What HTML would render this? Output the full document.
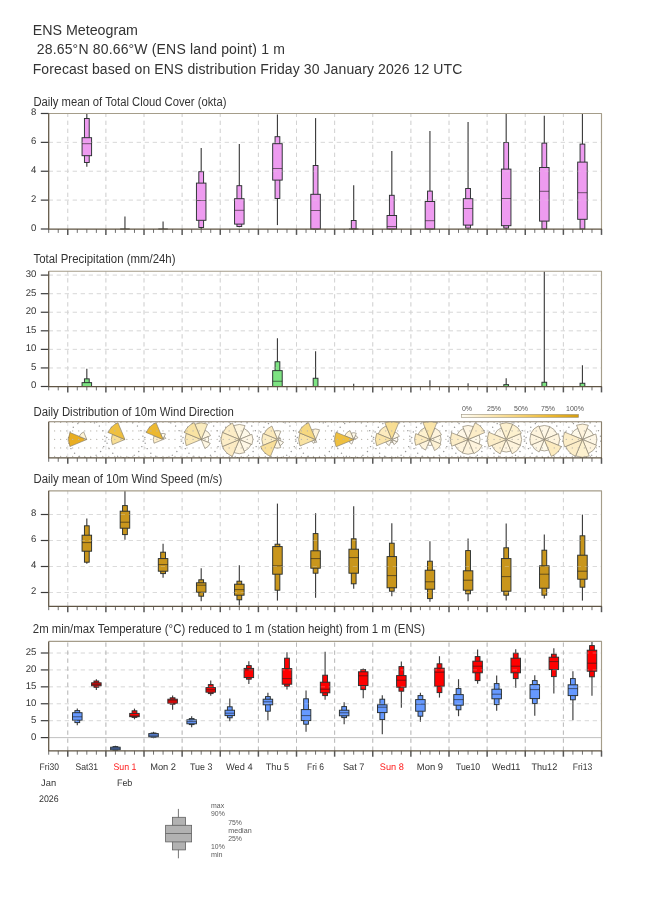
<!DOCTYPE html>
<html lang="en"><head><meta charset="utf-8"><title>ENS Meteogram</title>
<style>html,body{margin:0;padding:0;background:#fff;}svg{display:block;}text{font-family:'Liberation Sans', Arial, Helvetica, sans-serif;}.gp{text-rendering:geometricPrecision;}</style></head><body>
<svg width="650" height="916" viewBox="0 0 650 916">
<rect x="0" y="0" width="650" height="916" fill="#ffffff"/>
<text x="32.7" y="34.6" font-size="14" text-anchor="start" fill="#333333" textLength="105.3" lengthAdjust="spacingAndGlyphs">ENS Meteogram</text>
<text x="32.7" y="54" font-size="14" fill="#333333" xml:space="preserve" textLength="252.2" lengthAdjust="spacing"> 28.65°N 80.66°W (ENS land point) 1 m</text>
<text x="32.7" y="73.8" font-size="14" fill="#333333" textLength="429.6" lengthAdjust="spacing">Forecast based on ENS distribution Friday 30 January 2026 12 UTC</text>
<text x="33.5" y="105.6" font-size="12" text-anchor="start" fill="#333333" textLength="192.9" lengthAdjust="spacingAndGlyphs">Daily mean of Total Cloud Cover (okta)</text>
<g stroke-dasharray="4.3 3.7" stroke-width="1" fill="none">
<line x1="48.7" y1="200.12" x2="601.5" y2="200.12" stroke="#dbdbdb" stroke-width="1"/>
<line x1="48.7" y1="171.24" x2="601.5" y2="171.24" stroke="#dbdbdb" stroke-width="1"/>
<line x1="48.7" y1="142.36" x2="601.5" y2="142.36" stroke="#dbdbdb" stroke-width="1"/>
<line x1="67.76" y1="229" x2="67.76" y2="113.5" stroke="#d3d3d3" stroke-width="1"/>
<line x1="105.89" y1="229" x2="105.89" y2="113.5" stroke="#d3d3d3" stroke-width="1"/>
<line x1="144.01" y1="229" x2="144.01" y2="113.5" stroke="#d3d3d3" stroke-width="1"/>
<line x1="182.13" y1="229" x2="182.13" y2="113.5" stroke="#d3d3d3" stroke-width="1"/>
<line x1="220.26" y1="229" x2="220.26" y2="113.5" stroke="#d3d3d3" stroke-width="1"/>
<line x1="258.38" y1="229" x2="258.38" y2="113.5" stroke="#d3d3d3" stroke-width="1"/>
<line x1="296.51" y1="229" x2="296.51" y2="113.5" stroke="#d3d3d3" stroke-width="1"/>
<line x1="334.63" y1="229" x2="334.63" y2="113.5" stroke="#d3d3d3" stroke-width="1"/>
<line x1="372.76" y1="229" x2="372.76" y2="113.5" stroke="#d3d3d3" stroke-width="1"/>
<line x1="410.88" y1="229" x2="410.88" y2="113.5" stroke="#d3d3d3" stroke-width="1"/>
<line x1="449" y1="229" x2="449" y2="113.5" stroke="#d3d3d3" stroke-width="1"/>
<line x1="487.13" y1="229" x2="487.13" y2="113.5" stroke="#d3d3d3" stroke-width="1"/>
<line x1="525.25" y1="229" x2="525.25" y2="113.5" stroke="#d3d3d3" stroke-width="1"/>
<line x1="563.38" y1="229" x2="563.38" y2="113.5" stroke="#d3d3d3" stroke-width="1"/>
</g>
<g>
<line x1="86.82" y1="113.5" x2="86.82" y2="166.7" stroke="#3e3e3e" stroke-width="1.15"/>
<rect x="84.44" y="118.5" width="4.77" height="44" fill="#ee9bf0" stroke="#2a3030" stroke-width="0.95"/>
<rect x="82.06" y="137.7" width="9.53" height="18" fill="#ee9bf0" stroke="#2a3030" stroke-width="0.95"/>
<line x1="82.06" y1="143.7" x2="91.59" y2="143.7" stroke="#1c1c1c" stroke-width="0.6"/>
<line x1="124.95" y1="216.5" x2="124.95" y2="229" stroke="#3e3e3e" stroke-width="1.15"/>
<line x1="120.18" y1="229" x2="129.71" y2="229" stroke="#2a3030" stroke-width="1"/>
<line x1="163.07" y1="221.5" x2="163.07" y2="229" stroke="#3e3e3e" stroke-width="1.15"/>
<line x1="158.31" y1="229" x2="167.84" y2="229" stroke="#2a3030" stroke-width="1"/>
<line x1="201.2" y1="148.1" x2="201.2" y2="229" stroke="#3e3e3e" stroke-width="1.15"/>
<rect x="198.81" y="171.7" width="4.77" height="55.8" fill="#ee9bf0" stroke="#2a3030" stroke-width="0.95"/>
<rect x="196.43" y="183.1" width="9.53" height="37.2" fill="#ee9bf0" stroke="#2a3030" stroke-width="0.95"/>
<line x1="196.43" y1="200.5" x2="205.96" y2="200.5" stroke="#1c1c1c" stroke-width="0.6"/>
<line x1="239.32" y1="144.1" x2="239.32" y2="227.3" stroke="#3e3e3e" stroke-width="1.15"/>
<rect x="236.94" y="185.7" width="4.77" height="40.8" fill="#ee9bf0" stroke="#2a3030" stroke-width="0.95"/>
<rect x="234.56" y="198.7" width="9.53" height="25.4" fill="#ee9bf0" stroke="#2a3030" stroke-width="0.95"/>
<line x1="234.56" y1="210.3" x2="244.09" y2="210.3" stroke="#1c1c1c" stroke-width="0.6"/>
<line x1="277.44" y1="114.5" x2="277.44" y2="225.1" stroke="#3e3e3e" stroke-width="1.15"/>
<rect x="275.06" y="136.7" width="4.77" height="61.8" fill="#ee9bf0" stroke="#2a3030" stroke-width="0.95"/>
<rect x="272.68" y="143.7" width="9.53" height="36.4" fill="#ee9bf0" stroke="#2a3030" stroke-width="0.95"/>
<line x1="272.68" y1="168.5" x2="282.21" y2="168.5" stroke="#1c1c1c" stroke-width="0.6"/>
<line x1="315.57" y1="118.1" x2="315.57" y2="229" stroke="#3e3e3e" stroke-width="1.15"/>
<rect x="313.19" y="165.5" width="4.77" height="63.5" fill="#ee9bf0" stroke="#2a3030" stroke-width="0.95"/>
<rect x="310.8" y="194.3" width="9.53" height="34.7" fill="#ee9bf0" stroke="#2a3030" stroke-width="0.95"/>
<line x1="310.8" y1="210.5" x2="320.33" y2="210.5" stroke="#1c1c1c" stroke-width="0.6"/>
<line x1="353.69" y1="185.3" x2="353.69" y2="229" stroke="#3e3e3e" stroke-width="1.15"/>
<rect x="351.31" y="220.5" width="4.77" height="8.5" fill="#ee9bf0" stroke="#2a3030" stroke-width="0.95"/>
<line x1="348.93" y1="229" x2="358.46" y2="229" stroke="#2a3030" stroke-width="1"/>
<line x1="391.82" y1="151.1" x2="391.82" y2="229" stroke="#3e3e3e" stroke-width="1.15"/>
<rect x="389.43" y="195.3" width="4.77" height="33.7" fill="#ee9bf0" stroke="#2a3030" stroke-width="0.95"/>
<rect x="387.05" y="215.5" width="9.53" height="13.5" fill="#ee9bf0" stroke="#2a3030" stroke-width="0.95"/>
<line x1="387.05" y1="226.5" x2="396.58" y2="226.5" stroke="#1c1c1c" stroke-width="0.6"/>
<line x1="429.94" y1="131.1" x2="429.94" y2="229" stroke="#3e3e3e" stroke-width="1.15"/>
<rect x="427.56" y="191.1" width="4.77" height="37.9" fill="#ee9bf0" stroke="#2a3030" stroke-width="0.95"/>
<rect x="425.18" y="201.5" width="9.53" height="27.5" fill="#ee9bf0" stroke="#2a3030" stroke-width="0.95"/>
<line x1="425.18" y1="220.7" x2="434.71" y2="220.7" stroke="#1c1c1c" stroke-width="0.6"/>
<line x1="468.07" y1="122.1" x2="468.07" y2="229" stroke="#3e3e3e" stroke-width="1.15"/>
<rect x="465.68" y="188.5" width="4.77" height="39.6" fill="#ee9bf0" stroke="#2a3030" stroke-width="0.95"/>
<rect x="463.3" y="198.7" width="9.53" height="26.4" fill="#ee9bf0" stroke="#2a3030" stroke-width="0.95"/>
<line x1="463.3" y1="208.5" x2="472.83" y2="208.5" stroke="#1c1c1c" stroke-width="0.6"/>
<line x1="506.19" y1="113.5" x2="506.19" y2="229" stroke="#3e3e3e" stroke-width="1.15"/>
<rect x="503.81" y="142.5" width="4.77" height="85.6" fill="#ee9bf0" stroke="#2a3030" stroke-width="0.95"/>
<rect x="501.42" y="169.1" width="9.53" height="56.6" fill="#ee9bf0" stroke="#2a3030" stroke-width="0.95"/>
<line x1="501.42" y1="198.5" x2="510.96" y2="198.5" stroke="#1c1c1c" stroke-width="0.6"/>
<line x1="544.31" y1="115.7" x2="544.31" y2="229" stroke="#3e3e3e" stroke-width="1.15"/>
<rect x="541.93" y="143.1" width="4.77" height="85.9" fill="#ee9bf0" stroke="#2a3030" stroke-width="0.95"/>
<rect x="539.55" y="167.5" width="9.53" height="53.6" fill="#ee9bf0" stroke="#2a3030" stroke-width="0.95"/>
<line x1="539.55" y1="191.3" x2="549.08" y2="191.3" stroke="#1c1c1c" stroke-width="0.6"/>
<line x1="582.44" y1="113.5" x2="582.44" y2="229" stroke="#3e3e3e" stroke-width="1.15"/>
<rect x="580.06" y="144.1" width="4.77" height="84.9" fill="#ee9bf0" stroke="#2a3030" stroke-width="0.95"/>
<rect x="577.67" y="162.1" width="9.53" height="57.2" fill="#ee9bf0" stroke="#2a3030" stroke-width="0.95"/>
<line x1="577.67" y1="192.7" x2="587.2" y2="192.7" stroke="#1c1c1c" stroke-width="0.6"/>
</g>
<g opacity="0.3">
<g stroke-dasharray="4.3 3.7" stroke-width="1" fill="none">
<line x1="48.7" y1="200.12" x2="601.5" y2="200.12" stroke="#dbdbdb" stroke-width="1"/>
<line x1="48.7" y1="171.24" x2="601.5" y2="171.24" stroke="#dbdbdb" stroke-width="1"/>
<line x1="48.7" y1="142.36" x2="601.5" y2="142.36" stroke="#dbdbdb" stroke-width="1"/>
<line x1="67.76" y1="229" x2="67.76" y2="113.5" stroke="#d3d3d3" stroke-width="1"/>
<line x1="105.89" y1="229" x2="105.89" y2="113.5" stroke="#d3d3d3" stroke-width="1"/>
<line x1="144.01" y1="229" x2="144.01" y2="113.5" stroke="#d3d3d3" stroke-width="1"/>
<line x1="182.13" y1="229" x2="182.13" y2="113.5" stroke="#d3d3d3" stroke-width="1"/>
<line x1="220.26" y1="229" x2="220.26" y2="113.5" stroke="#d3d3d3" stroke-width="1"/>
<line x1="258.38" y1="229" x2="258.38" y2="113.5" stroke="#d3d3d3" stroke-width="1"/>
<line x1="296.51" y1="229" x2="296.51" y2="113.5" stroke="#d3d3d3" stroke-width="1"/>
<line x1="334.63" y1="229" x2="334.63" y2="113.5" stroke="#d3d3d3" stroke-width="1"/>
<line x1="372.76" y1="229" x2="372.76" y2="113.5" stroke="#d3d3d3" stroke-width="1"/>
<line x1="410.88" y1="229" x2="410.88" y2="113.5" stroke="#d3d3d3" stroke-width="1"/>
<line x1="449" y1="229" x2="449" y2="113.5" stroke="#d3d3d3" stroke-width="1"/>
<line x1="487.13" y1="229" x2="487.13" y2="113.5" stroke="#d3d3d3" stroke-width="1"/>
<line x1="525.25" y1="229" x2="525.25" y2="113.5" stroke="#d3d3d3" stroke-width="1"/>
<line x1="563.38" y1="229" x2="563.38" y2="113.5" stroke="#d3d3d3" stroke-width="1"/>
</g>
</g>
<polyline points="48.7,113.5 601.5,113.5 601.5,229" fill="none" stroke="#a59d8a" stroke-width="1.15" stroke-linejoin="round"/>
<line x1="48.7" y1="229" x2="48.7" y2="232.9" stroke="#707070" stroke-width="1"/>
<line x1="58.23" y1="229" x2="58.23" y2="232.9" stroke="#707070" stroke-width="1"/>
<line x1="67.76" y1="229" x2="67.76" y2="234.9" stroke="#585858" stroke-width="1.5"/>
<line x1="77.29" y1="229" x2="77.29" y2="232.9" stroke="#707070" stroke-width="1"/>
<line x1="86.82" y1="229" x2="86.82" y2="232.9" stroke="#707070" stroke-width="1"/>
<line x1="96.36" y1="229" x2="96.36" y2="232.9" stroke="#707070" stroke-width="1"/>
<line x1="105.89" y1="229" x2="105.89" y2="234.9" stroke="#585858" stroke-width="1.5"/>
<line x1="115.42" y1="229" x2="115.42" y2="232.9" stroke="#707070" stroke-width="1"/>
<line x1="124.95" y1="229" x2="124.95" y2="232.9" stroke="#707070" stroke-width="1"/>
<line x1="134.48" y1="229" x2="134.48" y2="232.9" stroke="#707070" stroke-width="1"/>
<line x1="144.01" y1="229" x2="144.01" y2="234.9" stroke="#585858" stroke-width="1.5"/>
<line x1="153.54" y1="229" x2="153.54" y2="232.9" stroke="#707070" stroke-width="1"/>
<line x1="163.07" y1="229" x2="163.07" y2="232.9" stroke="#707070" stroke-width="1"/>
<line x1="172.6" y1="229" x2="172.6" y2="232.9" stroke="#707070" stroke-width="1"/>
<line x1="182.13" y1="229" x2="182.13" y2="234.9" stroke="#585858" stroke-width="1.5"/>
<line x1="191.67" y1="229" x2="191.67" y2="232.9" stroke="#707070" stroke-width="1"/>
<line x1="201.2" y1="229" x2="201.2" y2="232.9" stroke="#707070" stroke-width="1"/>
<line x1="210.73" y1="229" x2="210.73" y2="232.9" stroke="#707070" stroke-width="1"/>
<line x1="220.26" y1="229" x2="220.26" y2="234.9" stroke="#585858" stroke-width="1.5"/>
<line x1="229.79" y1="229" x2="229.79" y2="232.9" stroke="#707070" stroke-width="1"/>
<line x1="239.32" y1="229" x2="239.32" y2="232.9" stroke="#707070" stroke-width="1"/>
<line x1="248.85" y1="229" x2="248.85" y2="232.9" stroke="#707070" stroke-width="1"/>
<line x1="258.38" y1="229" x2="258.38" y2="234.9" stroke="#585858" stroke-width="1.5"/>
<line x1="267.91" y1="229" x2="267.91" y2="232.9" stroke="#707070" stroke-width="1"/>
<line x1="277.44" y1="229" x2="277.44" y2="232.9" stroke="#707070" stroke-width="1"/>
<line x1="286.98" y1="229" x2="286.98" y2="232.9" stroke="#707070" stroke-width="1"/>
<line x1="296.51" y1="229" x2="296.51" y2="234.9" stroke="#585858" stroke-width="1.5"/>
<line x1="306.04" y1="229" x2="306.04" y2="232.9" stroke="#707070" stroke-width="1"/>
<line x1="315.57" y1="229" x2="315.57" y2="232.9" stroke="#707070" stroke-width="1"/>
<line x1="325.1" y1="229" x2="325.1" y2="232.9" stroke="#707070" stroke-width="1"/>
<line x1="334.63" y1="229" x2="334.63" y2="234.9" stroke="#585858" stroke-width="1.5"/>
<line x1="344.16" y1="229" x2="344.16" y2="232.9" stroke="#707070" stroke-width="1"/>
<line x1="353.69" y1="229" x2="353.69" y2="232.9" stroke="#707070" stroke-width="1"/>
<line x1="363.22" y1="229" x2="363.22" y2="232.9" stroke="#707070" stroke-width="1"/>
<line x1="372.76" y1="229" x2="372.76" y2="234.9" stroke="#585858" stroke-width="1.5"/>
<line x1="382.29" y1="229" x2="382.29" y2="232.9" stroke="#707070" stroke-width="1"/>
<line x1="391.82" y1="229" x2="391.82" y2="232.9" stroke="#707070" stroke-width="1"/>
<line x1="401.35" y1="229" x2="401.35" y2="232.9" stroke="#707070" stroke-width="1"/>
<line x1="410.88" y1="229" x2="410.88" y2="234.9" stroke="#585858" stroke-width="1.5"/>
<line x1="420.41" y1="229" x2="420.41" y2="232.9" stroke="#707070" stroke-width="1"/>
<line x1="429.94" y1="229" x2="429.94" y2="232.9" stroke="#707070" stroke-width="1"/>
<line x1="439.47" y1="229" x2="439.47" y2="232.9" stroke="#707070" stroke-width="1"/>
<line x1="449" y1="229" x2="449" y2="234.9" stroke="#585858" stroke-width="1.5"/>
<line x1="458.53" y1="229" x2="458.53" y2="232.9" stroke="#707070" stroke-width="1"/>
<line x1="468.07" y1="229" x2="468.07" y2="232.9" stroke="#707070" stroke-width="1"/>
<line x1="477.6" y1="229" x2="477.6" y2="232.9" stroke="#707070" stroke-width="1"/>
<line x1="487.13" y1="229" x2="487.13" y2="234.9" stroke="#585858" stroke-width="1.5"/>
<line x1="496.66" y1="229" x2="496.66" y2="232.9" stroke="#707070" stroke-width="1"/>
<line x1="506.19" y1="229" x2="506.19" y2="232.9" stroke="#707070" stroke-width="1"/>
<line x1="515.72" y1="229" x2="515.72" y2="232.9" stroke="#707070" stroke-width="1"/>
<line x1="525.25" y1="229" x2="525.25" y2="234.9" stroke="#585858" stroke-width="1.5"/>
<line x1="534.78" y1="229" x2="534.78" y2="232.9" stroke="#707070" stroke-width="1"/>
<line x1="544.31" y1="229" x2="544.31" y2="232.9" stroke="#707070" stroke-width="1"/>
<line x1="553.84" y1="229" x2="553.84" y2="232.9" stroke="#707070" stroke-width="1"/>
<line x1="563.38" y1="229" x2="563.38" y2="234.9" stroke="#585858" stroke-width="1.5"/>
<line x1="572.91" y1="229" x2="572.91" y2="232.9" stroke="#707070" stroke-width="1"/>
<line x1="582.44" y1="229" x2="582.44" y2="232.9" stroke="#707070" stroke-width="1"/>
<line x1="591.97" y1="229" x2="591.97" y2="232.9" stroke="#707070" stroke-width="1"/>
<line x1="601.5" y1="229" x2="601.5" y2="234.9" stroke="#585858" stroke-width="1.5"/>
<line x1="40.8" y1="229" x2="48.7" y2="229" stroke="#3c3c3c" stroke-width="1.2"/>
<text x="36.3" y="230.95" font-size="9.7" text-anchor="end" fill="#333333" textLength="5.3" lengthAdjust="spacingAndGlyphs" class="gp">0</text>
<line x1="40.8" y1="200.12" x2="48.7" y2="200.12" stroke="#3c3c3c" stroke-width="1.2"/>
<text x="36.3" y="202.07" font-size="9.7" text-anchor="end" fill="#333333" textLength="5.3" lengthAdjust="spacingAndGlyphs" class="gp">2</text>
<line x1="40.8" y1="171.24" x2="48.7" y2="171.24" stroke="#3c3c3c" stroke-width="1.2"/>
<text x="36.3" y="173.19" font-size="9.7" text-anchor="end" fill="#333333" textLength="5.3" lengthAdjust="spacingAndGlyphs" class="gp">4</text>
<line x1="40.8" y1="142.36" x2="48.7" y2="142.36" stroke="#3c3c3c" stroke-width="1.2"/>
<text x="36.3" y="144.31" font-size="9.7" text-anchor="end" fill="#333333" textLength="5.3" lengthAdjust="spacingAndGlyphs" class="gp">6</text>
<line x1="40.8" y1="113.48" x2="48.7" y2="113.48" stroke="#3c3c3c" stroke-width="1.2"/>
<text x="36.3" y="115.43" font-size="9.7" text-anchor="end" fill="#333333" textLength="5.3" lengthAdjust="spacingAndGlyphs" class="gp">8</text>
<polyline points="48.7,113.5 48.7,229 602,229" fill="none" stroke="#5f5443" stroke-width="1.25" stroke-linejoin="round"/>
<text x="33.5" y="262.9" font-size="12" text-anchor="start" fill="#333333" textLength="142" lengthAdjust="spacingAndGlyphs">Total Precipitation (mm/24h)</text>
<g stroke-dasharray="4.3 3.7" stroke-width="1" fill="none">
<line x1="48.7" y1="367.94" x2="601.5" y2="367.94" stroke="#dbdbdb" stroke-width="1"/>
<line x1="48.7" y1="349.37" x2="601.5" y2="349.37" stroke="#dbdbdb" stroke-width="1"/>
<line x1="48.7" y1="330.81" x2="601.5" y2="330.81" stroke="#dbdbdb" stroke-width="1"/>
<line x1="48.7" y1="312.24" x2="601.5" y2="312.24" stroke="#dbdbdb" stroke-width="1"/>
<line x1="48.7" y1="293.68" x2="601.5" y2="293.68" stroke="#dbdbdb" stroke-width="1"/>
<line x1="48.7" y1="275.11" x2="601.5" y2="275.11" stroke="#dbdbdb" stroke-width="1"/>
<line x1="67.76" y1="386.5" x2="67.76" y2="271.2" stroke="#d3d3d3" stroke-width="1"/>
<line x1="105.89" y1="386.5" x2="105.89" y2="271.2" stroke="#d3d3d3" stroke-width="1"/>
<line x1="144.01" y1="386.5" x2="144.01" y2="271.2" stroke="#d3d3d3" stroke-width="1"/>
<line x1="182.13" y1="386.5" x2="182.13" y2="271.2" stroke="#d3d3d3" stroke-width="1"/>
<line x1="220.26" y1="386.5" x2="220.26" y2="271.2" stroke="#d3d3d3" stroke-width="1"/>
<line x1="258.38" y1="386.5" x2="258.38" y2="271.2" stroke="#d3d3d3" stroke-width="1"/>
<line x1="296.51" y1="386.5" x2="296.51" y2="271.2" stroke="#d3d3d3" stroke-width="1"/>
<line x1="334.63" y1="386.5" x2="334.63" y2="271.2" stroke="#d3d3d3" stroke-width="1"/>
<line x1="372.76" y1="386.5" x2="372.76" y2="271.2" stroke="#d3d3d3" stroke-width="1"/>
<line x1="410.88" y1="386.5" x2="410.88" y2="271.2" stroke="#d3d3d3" stroke-width="1"/>
<line x1="449" y1="386.5" x2="449" y2="271.2" stroke="#d3d3d3" stroke-width="1"/>
<line x1="487.13" y1="386.5" x2="487.13" y2="271.2" stroke="#d3d3d3" stroke-width="1"/>
<line x1="525.25" y1="386.5" x2="525.25" y2="271.2" stroke="#d3d3d3" stroke-width="1"/>
<line x1="563.38" y1="386.5" x2="563.38" y2="271.2" stroke="#d3d3d3" stroke-width="1"/>
</g>
<g>
<line x1="86.82" y1="368.65" x2="86.82" y2="386.5" stroke="#3e3e3e" stroke-width="1.15"/>
<rect x="84.44" y="378.85" width="4.77" height="7.65" fill="#7de382" stroke="#2a3030" stroke-width="0.95"/>
<rect x="82.06" y="382.65" width="9.53" height="3.85" fill="#7de382" stroke="#2a3030" stroke-width="0.95"/>
<line x1="277.44" y1="338.25" x2="277.44" y2="386.5" stroke="#3e3e3e" stroke-width="1.15"/>
<rect x="275.06" y="361.75" width="4.77" height="24.75" fill="#7de382" stroke="#2a3030" stroke-width="0.95"/>
<rect x="272.68" y="370.65" width="9.53" height="15.85" fill="#7de382" stroke="#2a3030" stroke-width="0.95"/>
<line x1="272.68" y1="381.25" x2="282.21" y2="381.25" stroke="#1c1c1c" stroke-width="0.6"/>
<line x1="315.57" y1="351.25" x2="315.57" y2="386.5" stroke="#3e3e3e" stroke-width="1.15"/>
<rect x="313.19" y="378.25" width="4.77" height="8.25" fill="#7de382" stroke="#2a3030" stroke-width="0.95"/>
<line x1="310.8" y1="386.5" x2="320.33" y2="386.5" stroke="#2a3030" stroke-width="1"/>
<line x1="353.69" y1="383.85" x2="353.69" y2="386.5" stroke="#3e3e3e" stroke-width="1.15"/>
<line x1="348.93" y1="386.5" x2="358.46" y2="386.5" stroke="#2a3030" stroke-width="1"/>
<line x1="429.94" y1="380.25" x2="429.94" y2="386.5" stroke="#3e3e3e" stroke-width="1.15"/>
<line x1="425.18" y1="386.5" x2="434.71" y2="386.5" stroke="#2a3030" stroke-width="1"/>
<line x1="468.07" y1="383.25" x2="468.07" y2="386.5" stroke="#3e3e3e" stroke-width="1.15"/>
<line x1="463.3" y1="386.5" x2="472.83" y2="386.5" stroke="#2a3030" stroke-width="1"/>
<line x1="506.19" y1="378.25" x2="506.19" y2="386.5" stroke="#3e3e3e" stroke-width="1.15"/>
<rect x="503.81" y="384.65" width="4.77" height="1.85" fill="#7de382" stroke="#2a3030" stroke-width="0.95"/>
<line x1="501.42" y1="386.5" x2="510.96" y2="386.5" stroke="#2a3030" stroke-width="1"/>
<line x1="544.31" y1="271.45" x2="544.31" y2="386.5" stroke="#3e3e3e" stroke-width="1.15"/>
<rect x="541.93" y="382.25" width="4.77" height="4.25" fill="#7de382" stroke="#2a3030" stroke-width="0.95"/>
<line x1="539.55" y1="386.5" x2="549.08" y2="386.5" stroke="#2a3030" stroke-width="1"/>
<line x1="582.44" y1="365.25" x2="582.44" y2="386.5" stroke="#3e3e3e" stroke-width="1.15"/>
<rect x="580.06" y="383.25" width="4.77" height="3.25" fill="#7de382" stroke="#2a3030" stroke-width="0.95"/>
<line x1="577.67" y1="386.5" x2="587.2" y2="386.5" stroke="#2a3030" stroke-width="1"/>
</g>
<g opacity="0.3">
<g stroke-dasharray="4.3 3.7" stroke-width="1" fill="none">
<line x1="48.7" y1="367.94" x2="601.5" y2="367.94" stroke="#dbdbdb" stroke-width="1"/>
<line x1="48.7" y1="349.37" x2="601.5" y2="349.37" stroke="#dbdbdb" stroke-width="1"/>
<line x1="48.7" y1="330.81" x2="601.5" y2="330.81" stroke="#dbdbdb" stroke-width="1"/>
<line x1="48.7" y1="312.24" x2="601.5" y2="312.24" stroke="#dbdbdb" stroke-width="1"/>
<line x1="48.7" y1="293.68" x2="601.5" y2="293.68" stroke="#dbdbdb" stroke-width="1"/>
<line x1="48.7" y1="275.11" x2="601.5" y2="275.11" stroke="#dbdbdb" stroke-width="1"/>
<line x1="67.76" y1="386.5" x2="67.76" y2="271.2" stroke="#d3d3d3" stroke-width="1"/>
<line x1="105.89" y1="386.5" x2="105.89" y2="271.2" stroke="#d3d3d3" stroke-width="1"/>
<line x1="144.01" y1="386.5" x2="144.01" y2="271.2" stroke="#d3d3d3" stroke-width="1"/>
<line x1="182.13" y1="386.5" x2="182.13" y2="271.2" stroke="#d3d3d3" stroke-width="1"/>
<line x1="220.26" y1="386.5" x2="220.26" y2="271.2" stroke="#d3d3d3" stroke-width="1"/>
<line x1="258.38" y1="386.5" x2="258.38" y2="271.2" stroke="#d3d3d3" stroke-width="1"/>
<line x1="296.51" y1="386.5" x2="296.51" y2="271.2" stroke="#d3d3d3" stroke-width="1"/>
<line x1="334.63" y1="386.5" x2="334.63" y2="271.2" stroke="#d3d3d3" stroke-width="1"/>
<line x1="372.76" y1="386.5" x2="372.76" y2="271.2" stroke="#d3d3d3" stroke-width="1"/>
<line x1="410.88" y1="386.5" x2="410.88" y2="271.2" stroke="#d3d3d3" stroke-width="1"/>
<line x1="449" y1="386.5" x2="449" y2="271.2" stroke="#d3d3d3" stroke-width="1"/>
<line x1="487.13" y1="386.5" x2="487.13" y2="271.2" stroke="#d3d3d3" stroke-width="1"/>
<line x1="525.25" y1="386.5" x2="525.25" y2="271.2" stroke="#d3d3d3" stroke-width="1"/>
<line x1="563.38" y1="386.5" x2="563.38" y2="271.2" stroke="#d3d3d3" stroke-width="1"/>
</g>
</g>
<polyline points="48.7,271.2 601.5,271.2 601.5,386.5" fill="none" stroke="#a59d8a" stroke-width="1.15" stroke-linejoin="round"/>
<line x1="48.7" y1="386.5" x2="48.7" y2="390.4" stroke="#707070" stroke-width="1"/>
<line x1="58.23" y1="386.5" x2="58.23" y2="390.4" stroke="#707070" stroke-width="1"/>
<line x1="67.76" y1="386.5" x2="67.76" y2="392.4" stroke="#585858" stroke-width="1.5"/>
<line x1="77.29" y1="386.5" x2="77.29" y2="390.4" stroke="#707070" stroke-width="1"/>
<line x1="86.82" y1="386.5" x2="86.82" y2="390.4" stroke="#707070" stroke-width="1"/>
<line x1="96.36" y1="386.5" x2="96.36" y2="390.4" stroke="#707070" stroke-width="1"/>
<line x1="105.89" y1="386.5" x2="105.89" y2="392.4" stroke="#585858" stroke-width="1.5"/>
<line x1="115.42" y1="386.5" x2="115.42" y2="390.4" stroke="#707070" stroke-width="1"/>
<line x1="124.95" y1="386.5" x2="124.95" y2="390.4" stroke="#707070" stroke-width="1"/>
<line x1="134.48" y1="386.5" x2="134.48" y2="390.4" stroke="#707070" stroke-width="1"/>
<line x1="144.01" y1="386.5" x2="144.01" y2="392.4" stroke="#585858" stroke-width="1.5"/>
<line x1="153.54" y1="386.5" x2="153.54" y2="390.4" stroke="#707070" stroke-width="1"/>
<line x1="163.07" y1="386.5" x2="163.07" y2="390.4" stroke="#707070" stroke-width="1"/>
<line x1="172.6" y1="386.5" x2="172.6" y2="390.4" stroke="#707070" stroke-width="1"/>
<line x1="182.13" y1="386.5" x2="182.13" y2="392.4" stroke="#585858" stroke-width="1.5"/>
<line x1="191.67" y1="386.5" x2="191.67" y2="390.4" stroke="#707070" stroke-width="1"/>
<line x1="201.2" y1="386.5" x2="201.2" y2="390.4" stroke="#707070" stroke-width="1"/>
<line x1="210.73" y1="386.5" x2="210.73" y2="390.4" stroke="#707070" stroke-width="1"/>
<line x1="220.26" y1="386.5" x2="220.26" y2="392.4" stroke="#585858" stroke-width="1.5"/>
<line x1="229.79" y1="386.5" x2="229.79" y2="390.4" stroke="#707070" stroke-width="1"/>
<line x1="239.32" y1="386.5" x2="239.32" y2="390.4" stroke="#707070" stroke-width="1"/>
<line x1="248.85" y1="386.5" x2="248.85" y2="390.4" stroke="#707070" stroke-width="1"/>
<line x1="258.38" y1="386.5" x2="258.38" y2="392.4" stroke="#585858" stroke-width="1.5"/>
<line x1="267.91" y1="386.5" x2="267.91" y2="390.4" stroke="#707070" stroke-width="1"/>
<line x1="277.44" y1="386.5" x2="277.44" y2="390.4" stroke="#707070" stroke-width="1"/>
<line x1="286.98" y1="386.5" x2="286.98" y2="390.4" stroke="#707070" stroke-width="1"/>
<line x1="296.51" y1="386.5" x2="296.51" y2="392.4" stroke="#585858" stroke-width="1.5"/>
<line x1="306.04" y1="386.5" x2="306.04" y2="390.4" stroke="#707070" stroke-width="1"/>
<line x1="315.57" y1="386.5" x2="315.57" y2="390.4" stroke="#707070" stroke-width="1"/>
<line x1="325.1" y1="386.5" x2="325.1" y2="390.4" stroke="#707070" stroke-width="1"/>
<line x1="334.63" y1="386.5" x2="334.63" y2="392.4" stroke="#585858" stroke-width="1.5"/>
<line x1="344.16" y1="386.5" x2="344.16" y2="390.4" stroke="#707070" stroke-width="1"/>
<line x1="353.69" y1="386.5" x2="353.69" y2="390.4" stroke="#707070" stroke-width="1"/>
<line x1="363.22" y1="386.5" x2="363.22" y2="390.4" stroke="#707070" stroke-width="1"/>
<line x1="372.76" y1="386.5" x2="372.76" y2="392.4" stroke="#585858" stroke-width="1.5"/>
<line x1="382.29" y1="386.5" x2="382.29" y2="390.4" stroke="#707070" stroke-width="1"/>
<line x1="391.82" y1="386.5" x2="391.82" y2="390.4" stroke="#707070" stroke-width="1"/>
<line x1="401.35" y1="386.5" x2="401.35" y2="390.4" stroke="#707070" stroke-width="1"/>
<line x1="410.88" y1="386.5" x2="410.88" y2="392.4" stroke="#585858" stroke-width="1.5"/>
<line x1="420.41" y1="386.5" x2="420.41" y2="390.4" stroke="#707070" stroke-width="1"/>
<line x1="429.94" y1="386.5" x2="429.94" y2="390.4" stroke="#707070" stroke-width="1"/>
<line x1="439.47" y1="386.5" x2="439.47" y2="390.4" stroke="#707070" stroke-width="1"/>
<line x1="449" y1="386.5" x2="449" y2="392.4" stroke="#585858" stroke-width="1.5"/>
<line x1="458.53" y1="386.5" x2="458.53" y2="390.4" stroke="#707070" stroke-width="1"/>
<line x1="468.07" y1="386.5" x2="468.07" y2="390.4" stroke="#707070" stroke-width="1"/>
<line x1="477.6" y1="386.5" x2="477.6" y2="390.4" stroke="#707070" stroke-width="1"/>
<line x1="487.13" y1="386.5" x2="487.13" y2="392.4" stroke="#585858" stroke-width="1.5"/>
<line x1="496.66" y1="386.5" x2="496.66" y2="390.4" stroke="#707070" stroke-width="1"/>
<line x1="506.19" y1="386.5" x2="506.19" y2="390.4" stroke="#707070" stroke-width="1"/>
<line x1="515.72" y1="386.5" x2="515.72" y2="390.4" stroke="#707070" stroke-width="1"/>
<line x1="525.25" y1="386.5" x2="525.25" y2="392.4" stroke="#585858" stroke-width="1.5"/>
<line x1="534.78" y1="386.5" x2="534.78" y2="390.4" stroke="#707070" stroke-width="1"/>
<line x1="544.31" y1="386.5" x2="544.31" y2="390.4" stroke="#707070" stroke-width="1"/>
<line x1="553.84" y1="386.5" x2="553.84" y2="390.4" stroke="#707070" stroke-width="1"/>
<line x1="563.38" y1="386.5" x2="563.38" y2="392.4" stroke="#585858" stroke-width="1.5"/>
<line x1="572.91" y1="386.5" x2="572.91" y2="390.4" stroke="#707070" stroke-width="1"/>
<line x1="582.44" y1="386.5" x2="582.44" y2="390.4" stroke="#707070" stroke-width="1"/>
<line x1="591.97" y1="386.5" x2="591.97" y2="390.4" stroke="#707070" stroke-width="1"/>
<line x1="601.5" y1="386.5" x2="601.5" y2="392.4" stroke="#585858" stroke-width="1.5"/>
<line x1="40.8" y1="386.5" x2="48.7" y2="386.5" stroke="#3c3c3c" stroke-width="1.2"/>
<text x="36.3" y="388.45" font-size="9.7" text-anchor="end" fill="#333333" textLength="5.3" lengthAdjust="spacingAndGlyphs" class="gp">0</text>
<line x1="40.8" y1="367.94" x2="48.7" y2="367.94" stroke="#3c3c3c" stroke-width="1.2"/>
<text x="36.3" y="369.88" font-size="9.7" text-anchor="end" fill="#333333" textLength="5.3" lengthAdjust="spacingAndGlyphs" class="gp">5</text>
<line x1="40.8" y1="349.37" x2="48.7" y2="349.37" stroke="#3c3c3c" stroke-width="1.2"/>
<text x="36.3" y="351.32" font-size="9.7" text-anchor="end" fill="#333333" textLength="10.6" lengthAdjust="spacingAndGlyphs" class="gp">10</text>
<line x1="40.8" y1="330.81" x2="48.7" y2="330.81" stroke="#3c3c3c" stroke-width="1.2"/>
<text x="36.3" y="332.75" font-size="9.7" text-anchor="end" fill="#333333" textLength="10.6" lengthAdjust="spacingAndGlyphs" class="gp">15</text>
<line x1="40.8" y1="312.24" x2="48.7" y2="312.24" stroke="#3c3c3c" stroke-width="1.2"/>
<text x="36.3" y="314.19" font-size="9.7" text-anchor="end" fill="#333333" textLength="10.6" lengthAdjust="spacingAndGlyphs" class="gp">20</text>
<line x1="40.8" y1="293.68" x2="48.7" y2="293.68" stroke="#3c3c3c" stroke-width="1.2"/>
<text x="36.3" y="295.62" font-size="9.7" text-anchor="end" fill="#333333" textLength="10.6" lengthAdjust="spacingAndGlyphs" class="gp">25</text>
<line x1="40.8" y1="275.11" x2="48.7" y2="275.11" stroke="#3c3c3c" stroke-width="1.2"/>
<text x="36.3" y="277.06" font-size="9.7" text-anchor="end" fill="#333333" textLength="10.6" lengthAdjust="spacingAndGlyphs" class="gp">30</text>
<polyline points="48.7,271.2 48.7,386.5 602,386.5" fill="none" stroke="#5f5443" stroke-width="1.25" stroke-linejoin="round"/>
<text x="33.5" y="415.6" font-size="12" text-anchor="start" fill="#333333" textLength="200.2" lengthAdjust="spacingAndGlyphs">Daily Distribution of 10m Wind Direction</text>
<defs><linearGradient id="wg" x1="0" y1="0" x2="1" y2="0"><stop offset="0" stop-color="#fffdf4"/><stop offset="0.25" stop-color="#fbe7b4"/><stop offset="0.5" stop-color="#f6d273"/><stop offset="0.75" stop-color="#ecb933"/><stop offset="1" stop-color="#d39c10"/></linearGradient><clipPath id="c3"><rect x="48.7" y="421.7" width="552.8" height="36.2"/></clipPath></defs>
<rect x="461.3" y="414.4" width="117.3" height="3" fill="url(#wg)" stroke="#9a927e" stroke-width="0.6"/>
<text x="467" y="411" font-size="7" text-anchor="middle" fill="#555555">0%</text>
<text x="494" y="411" font-size="7" text-anchor="middle" fill="#555555">25%</text>
<text x="521" y="411" font-size="7" text-anchor="middle" fill="#555555">50%</text>
<text x="548" y="411" font-size="7" text-anchor="middle" fill="#555555">75%</text>
<text x="575" y="411" font-size="7" text-anchor="middle" fill="#555555">100%</text>
<g clip-path="url(#c3)">
<g stroke-dasharray="4.3 3.7" stroke-width="1" fill="none">
<line x1="67.76" y1="457.9" x2="67.76" y2="421.7" stroke="#e2e2e2" stroke-width="1"/>
<line x1="105.89" y1="457.9" x2="105.89" y2="421.7" stroke="#e2e2e2" stroke-width="1"/>
<line x1="144.01" y1="457.9" x2="144.01" y2="421.7" stroke="#e2e2e2" stroke-width="1"/>
<line x1="182.13" y1="457.9" x2="182.13" y2="421.7" stroke="#e2e2e2" stroke-width="1"/>
<line x1="220.26" y1="457.9" x2="220.26" y2="421.7" stroke="#e2e2e2" stroke-width="1"/>
<line x1="258.38" y1="457.9" x2="258.38" y2="421.7" stroke="#e2e2e2" stroke-width="1"/>
<line x1="296.51" y1="457.9" x2="296.51" y2="421.7" stroke="#e2e2e2" stroke-width="1"/>
<line x1="334.63" y1="457.9" x2="334.63" y2="421.7" stroke="#e2e2e2" stroke-width="1"/>
<line x1="372.76" y1="457.9" x2="372.76" y2="421.7" stroke="#e2e2e2" stroke-width="1"/>
<line x1="410.88" y1="457.9" x2="410.88" y2="421.7" stroke="#e2e2e2" stroke-width="1"/>
<line x1="449" y1="457.9" x2="449" y2="421.7" stroke="#e2e2e2" stroke-width="1"/>
<line x1="487.13" y1="457.9" x2="487.13" y2="421.7" stroke="#e2e2e2" stroke-width="1"/>
<line x1="525.25" y1="457.9" x2="525.25" y2="421.7" stroke="#e2e2e2" stroke-width="1"/>
<line x1="563.38" y1="457.9" x2="563.38" y2="421.7" stroke="#e2e2e2" stroke-width="1"/>
</g>
<g fill="none" stroke="#9a9a9a" stroke-width="1.4" stroke-linecap="round">
<circle cx="86.82" cy="439.5" r="18.3" stroke-dasharray="0.01 5.74" transform="rotate(5 86.82 439.5)"/>
<circle cx="124.95" cy="439.5" r="18.3" stroke-dasharray="0.01 5.74" transform="rotate(5 124.95 439.5)"/>
<circle cx="163.07" cy="439.5" r="18.3" stroke-dasharray="0.01 5.74" transform="rotate(5 163.07 439.5)"/>
<circle cx="201.2" cy="439.5" r="18.3" stroke-dasharray="0.01 5.74" transform="rotate(5 201.2 439.5)"/>
<circle cx="239.32" cy="439.5" r="18.3" stroke-dasharray="0.01 5.74" transform="rotate(5 239.32 439.5)"/>
<circle cx="277.44" cy="439.5" r="18.3" stroke-dasharray="0.01 5.74" transform="rotate(5 277.44 439.5)"/>
<circle cx="315.57" cy="439.5" r="18.3" stroke-dasharray="0.01 5.74" transform="rotate(5 315.57 439.5)"/>
<circle cx="353.69" cy="439.5" r="18.3" stroke-dasharray="0.01 5.74" transform="rotate(5 353.69 439.5)"/>
<circle cx="391.82" cy="439.5" r="18.3" stroke-dasharray="0.01 5.74" transform="rotate(5 391.82 439.5)"/>
<circle cx="429.94" cy="439.5" r="18.3" stroke-dasharray="0.01 5.74" transform="rotate(5 429.94 439.5)"/>
<circle cx="468.07" cy="439.5" r="18.3" stroke-dasharray="0.01 5.74" transform="rotate(5 468.07 439.5)"/>
<circle cx="506.19" cy="439.5" r="18.3" stroke-dasharray="0.01 5.74" transform="rotate(5 506.19 439.5)"/>
<circle cx="544.31" cy="439.5" r="18.3" stroke-dasharray="0.01 5.74" transform="rotate(5 544.31 439.5)"/>
<circle cx="582.44" cy="439.5" r="18.3" stroke-dasharray="0.01 5.74" transform="rotate(5 582.44 439.5)"/>
</g>
<g stroke="#857d6c" stroke-width="0.65" stroke-linejoin="round">
<path d="M86.82,439.5L69.92,446.5A18.3,18.3 0 0 1 69.92,432.5Z" fill="#e9ae22"/>
<path d="M86.82,439.5L79.25,436.36A8.2,8.2 0 0 1 83.69,431.92Z" fill="#fef4d7"/>
<path d="M124.95,439.5L112.38,444.7A13.6,13.6 0 0 1 112.38,434.3Z" fill="#f8de94"/>
<path d="M124.95,439.5L108.13,432.54A18.2,18.2 0 0 1 117.98,422.69Z" fill="#efc040"/>
<path d="M163.07,439.5L154.02,443.25A9.8,9.8 0 0 1 154.02,435.75Z" fill="#fdedc7"/>
<path d="M163.07,439.5L160.74,433.86A6.1,6.1 0 0 1 165.41,433.86Z" fill="#fffaea"/>
<path d="M163.07,439.5L164.22,436.73A3,3 0 0 1 165.84,438.35Z" fill="#fffdf6"/>
<path d="M163.07,439.5L146.26,432.54A18.2,18.2 0 0 1 156.11,422.69Z" fill="#ecb830"/>
<path d="M201.2,439.5L205.06,430.17A10.1,10.1 0 0 1 210.53,435.63Z" fill="#fef7e3"/>
<path d="M201.2,439.5L208.13,436.63A7.5,7.5 0 0 1 208.13,442.37Z" fill="#fffaec"/>
<path d="M201.2,439.5L210.25,443.25A9.8,9.8 0 0 1 204.95,448.55Z" fill="#fef7e3"/>
<path d="M201.2,439.5L186.23,445.7A16.2,16.2 0 0 1 186.23,433.3Z" fill="#fae8b6"/>
<path d="M201.2,439.5L194.84,424.16A16.6,16.6 0 0 1 207.55,424.16Z" fill="#faecbf"/>
<path d="M201.2,439.5L184.38,432.54A18.2,18.2 0 0 1 194.23,422.69Z" fill="#f9e3a3"/>
<path d="M239.32,439.5L243.91,428.41A12,12 0 0 1 250.41,434.91Z" fill="#fef9e9"/>
<path d="M239.32,439.5L251.89,434.3A13.6,13.6 0 0 1 251.89,444.7Z" fill="#fef7e6"/>
<path d="M239.32,439.5L251.15,444.4A12.8,12.8 0 0 1 244.22,451.33Z" fill="#fef7e6"/>
<path d="M239.32,439.5L244.75,452.62A14.2,14.2 0 0 1 233.89,452.62Z" fill="#fef4dd"/>
<path d="M239.32,439.5L233.58,425.64A15,15 0 0 1 245.06,425.64Z" fill="#fef6e0"/>
<path d="M239.32,439.5L222.88,432.69A17.8,17.8 0 0 1 232.51,423.05Z" fill="#fcedc7"/>
<path d="M239.32,439.5L232.32,456.41A18.3,18.3 0 0 1 222.41,446.5Z" fill="#fcebc3"/>
<path d="M239.32,439.5L222.41,446.5A18.3,18.3 0 0 1 222.41,432.5Z" fill="#fcedc7"/>
<path d="M277.44,439.5L278.59,436.73A3,3 0 0 1 280.22,438.35Z" fill="#fffdf6"/>
<path d="M277.44,439.5L280.4,438.28A3.2,3.2 0 0 1 280.4,440.72Z" fill="#fffdf6"/>
<path d="M277.44,439.5L283.54,442.03A6.6,6.6 0 0 1 279.97,445.6Z" fill="#fefaee"/>
<path d="M277.44,439.5L280.77,447.54A8.7,8.7 0 0 1 274.12,447.54Z" fill="#fef7e6"/>
<path d="M277.44,439.5L274,431.19A9,9 0 0 1 280.89,431.19Z" fill="#fef9e9"/>
<path d="M277.44,439.5L263.96,433.91A14.6,14.6 0 0 1 271.86,426.01Z" fill="#fbe9ba"/>
<path d="M277.44,439.5L263.03,445.47A15.6,15.6 0 0 1 263.03,433.53Z" fill="#fcedc3"/>
<path d="M277.44,439.5L270.44,456.41A18.3,18.3 0 0 1 260.54,446.5Z" fill="#f9df99"/>
<path d="M315.57,439.5L316.72,442.27A3,3 0 0 1 314.42,442.27Z" fill="#fffdf6"/>
<path d="M315.57,439.5L313.96,443.38A4.2,4.2 0 0 1 311.69,441.11Z" fill="#fffcf3"/>
<path d="M315.57,439.5L311.55,429.8A10.5,10.5 0 0 1 319.59,429.8Z" fill="#fef4da"/>
<path d="M315.57,439.5L299.96,445.97A16.9,16.9 0 0 1 299.96,433.03Z" fill="#f9e3a3"/>
<path d="M315.57,439.5L298.75,432.54A18.2,18.2 0 0 1 308.6,422.69Z" fill="#f6d880"/>
<path d="M353.69,439.5L355.42,435.34A4.5,4.5 0 0 1 357.85,437.78Z" fill="#fffbf4"/>
<path d="M353.69,439.5L351.78,444.12A5,5 0 0 1 349.07,441.41Z" fill="#fffbf4"/>
<path d="M353.69,439.5L351.09,433.22A6.8,6.8 0 0 1 356.3,433.22Z" fill="#fef9e9"/>
<path d="M353.69,439.5L344.73,435.79A9.7,9.7 0 0 1 349.98,430.54Z" fill="#fef4d7"/>
<path d="M353.69,439.5L336.14,446.77A19,19 0 0 1 336.14,432.23Z" fill="#efc040"/>
<path d="M391.82,439.5L392.97,442.27A3,3 0 0 1 390.67,442.27Z" fill="#fffdf6"/>
<path d="M391.82,439.5L396.9,441.6A5.5,5.5 0 0 1 393.92,444.58Z" fill="#fffbf4"/>
<path d="M391.82,439.5L397.36,437.2A6,6 0 0 1 397.36,441.8Z" fill="#fffbf4"/>
<path d="M391.82,439.5L389.29,445.6A6.6,6.6 0 0 1 385.72,442.03Z" fill="#fefaee"/>
<path d="M391.82,439.5L394.96,431.92A8.2,8.2 0 0 1 399.39,436.36Z" fill="#fef9e9"/>
<path d="M391.82,439.5L378.14,433.84A14.8,14.8 0 0 1 386.15,425.83Z" fill="#fcebbf"/>
<path d="M391.82,439.5L376.67,445.78A16.4,16.4 0 0 1 376.67,433.22Z" fill="#fae4a8"/>
<path d="M391.82,439.5L384.81,422.59A18.3,18.3 0 0 1 398.82,422.59Z" fill="#f8de94"/>
<path d="M429.94,439.5L432.24,445.04A6,6 0 0 1 427.65,445.04Z" fill="#fffbf4"/>
<path d="M429.94,439.5L440.29,435.21A11.2,11.2 0 0 1 440.29,443.79Z" fill="#fef6e0"/>
<path d="M429.94,439.5L425.54,450.12A11.5,11.5 0 0 1 419.32,443.9Z" fill="#fef4dd"/>
<path d="M429.94,439.5L441.03,444.09A12,12 0 0 1 434.53,450.59Z" fill="#fdf1d3"/>
<path d="M429.94,439.5L434.72,427.95A12.5,12.5 0 0 1 441.49,434.72Z" fill="#fef4dd"/>
<path d="M429.94,439.5L417.93,434.53A13,13 0 0 1 424.97,427.49Z" fill="#fdf1cf"/>
<path d="M429.94,439.5L415.71,445.39A15.4,15.4 0 0 1 415.71,433.61Z" fill="#fcebbf"/>
<path d="M429.94,439.5L422.94,422.59A18.3,18.3 0 0 1 436.94,422.59Z" fill="#fae4a8"/>
<path d="M468.07,439.5L479.15,434.91A12,12 0 0 1 479.15,444.09Z" fill="#fef9e9"/>
<path d="M468.07,439.5L456.98,434.91A12,12 0 0 1 463.47,428.41Z" fill="#fef7e6"/>
<path d="M468.07,439.5L462.71,426.57A14,14 0 0 1 473.42,426.57Z" fill="#fef6e3"/>
<path d="M468.07,439.5L462.55,452.8A14.4,14.4 0 0 1 454.76,445.01Z" fill="#fef4dd"/>
<path d="M468.07,439.5L473.69,453.08A14.7,14.7 0 0 1 462.44,453.08Z" fill="#fef4dd"/>
<path d="M468.07,439.5L482.2,445.36A15.3,15.3 0 0 1 473.92,453.64Z" fill="#fef4dd"/>
<path d="M468.07,439.5L451.71,446.27A17.7,17.7 0 0 1 451.71,432.73Z" fill="#fcedc7"/>
<path d="M468.07,439.5L474.95,422.87A18,18 0 0 1 484.7,432.61Z" fill="#fcedc7"/>
<path d="M506.19,439.5L510.97,451.05A12.5,12.5 0 0 1 501.41,451.05Z" fill="#fef6e3"/>
<path d="M506.19,439.5L494.46,434.64A12.7,12.7 0 0 1 501.33,427.77Z" fill="#fef7e6"/>
<path d="M506.19,439.5L520.42,433.61A15.4,15.4 0 0 1 520.42,445.39Z" fill="#fef4dd"/>
<path d="M506.19,439.5L520.51,445.43A15.5,15.5 0 0 1 512.12,453.82Z" fill="#fef4dd"/>
<path d="M506.19,439.5L500.22,453.91A15.6,15.6 0 0 1 491.78,445.47Z" fill="#fdf1d3"/>
<path d="M506.19,439.5L512.5,424.26A16.5,16.5 0 0 1 521.43,433.19Z" fill="#fdf1cf"/>
<path d="M506.19,439.5L499.8,424.07A16.7,16.7 0 0 1 512.58,424.07Z" fill="#fdf1cf"/>
<path d="M506.19,439.5L488.73,446.73A18.9,18.9 0 0 1 488.73,432.27Z" fill="#fcedc7"/>
<path d="M544.31,439.5L548.68,450.03A11.4,11.4 0 0 1 539.95,450.03Z" fill="#fef9e9"/>
<path d="M544.31,439.5L539.11,452.06A13.6,13.6 0 0 1 531.75,444.7Z" fill="#fef6e3"/>
<path d="M544.31,439.5L549.63,426.66A13.9,13.9 0 0 1 557.16,434.18Z" fill="#fef6e3"/>
<path d="M544.31,439.5L538.96,426.57A14,14 0 0 1 549.67,426.57Z" fill="#fef7e6"/>
<path d="M544.31,439.5L530.92,445.05A14.5,14.5 0 0 1 530.92,433.95Z" fill="#fef4dd"/>
<path d="M544.31,439.5L530.64,433.84A14.8,14.8 0 0 1 538.65,425.83Z" fill="#fef4dd"/>
<path d="M544.31,439.5L558.45,433.64A15.3,15.3 0 0 1 558.45,445.36Z" fill="#fef4dd"/>
<path d="M544.31,439.5L561.22,446.5A18.3,18.3 0 0 1 551.32,456.41Z" fill="#fcebbf"/>
<path d="M582.44,439.5L587.03,428.41A12,12 0 0 1 593.52,434.91Z" fill="#fef9e9"/>
<path d="M582.44,439.5L571.17,434.83A12.2,12.2 0 0 1 577.77,428.23Z" fill="#fef9e9"/>
<path d="M582.44,439.5L595.83,433.95A14.5,14.5 0 0 1 595.83,445.05Z" fill="#fef7e6"/>
<path d="M582.44,439.5L596.57,445.36A15.3,15.3 0 0 1 588.29,453.64Z" fill="#fef4dd"/>
<path d="M582.44,439.5L576.54,425.27A15.4,15.4 0 0 1 588.33,425.27Z" fill="#fef4dd"/>
<path d="M582.44,439.5L589.25,455.95A17.8,17.8 0 0 1 575.63,455.95Z" fill="#fdf1cf"/>
<path d="M582.44,439.5L575.51,456.22A18.1,18.1 0 0 1 565.72,446.43Z" fill="#fcedc7"/>
<path d="M582.44,439.5L564.7,446.85A19.2,19.2 0 0 1 564.7,432.15Z" fill="#fcedc7"/>
</g>
<g fill="#b9b6ae">
<circle cx="54.6" cy="422.4" r="0.65"/>
<circle cx="60.62" cy="422.4" r="0.65"/>
<circle cx="66.64" cy="422.4" r="0.65"/>
<circle cx="72.66" cy="422.4" r="0.65"/>
<circle cx="78.68" cy="422.4" r="0.65"/>
<circle cx="84.7" cy="422.4" r="0.65"/>
<circle cx="90.72" cy="422.4" r="0.65"/>
<circle cx="96.74" cy="422.4" r="0.65"/>
<circle cx="102.76" cy="422.4" r="0.65"/>
<circle cx="108.78" cy="422.4" r="0.65"/>
<circle cx="114.8" cy="422.4" r="0.65"/>
<circle cx="120.82" cy="422.4" r="0.65"/>
<circle cx="126.84" cy="422.4" r="0.65"/>
<circle cx="132.86" cy="422.4" r="0.65"/>
<circle cx="138.88" cy="422.4" r="0.65"/>
<circle cx="144.9" cy="422.4" r="0.65"/>
<circle cx="150.92" cy="422.4" r="0.65"/>
<circle cx="156.94" cy="422.4" r="0.65"/>
<circle cx="162.96" cy="422.4" r="0.65"/>
<circle cx="168.98" cy="422.4" r="0.65"/>
<circle cx="175" cy="422.4" r="0.65"/>
<circle cx="181.02" cy="422.4" r="0.65"/>
<circle cx="187.04" cy="422.4" r="0.65"/>
<circle cx="193.06" cy="422.4" r="0.65"/>
<circle cx="199.08" cy="422.4" r="0.65"/>
<circle cx="205.1" cy="422.4" r="0.65"/>
<circle cx="211.12" cy="422.4" r="0.65"/>
<circle cx="217.14" cy="422.4" r="0.65"/>
<circle cx="223.16" cy="422.4" r="0.65"/>
<circle cx="229.18" cy="422.4" r="0.65"/>
<circle cx="235.2" cy="422.4" r="0.65"/>
<circle cx="241.22" cy="422.4" r="0.65"/>
<circle cx="247.24" cy="422.4" r="0.65"/>
<circle cx="253.26" cy="422.4" r="0.65"/>
<circle cx="259.28" cy="422.4" r="0.65"/>
<circle cx="265.3" cy="422.4" r="0.65"/>
<circle cx="271.32" cy="422.4" r="0.65"/>
<circle cx="277.34" cy="422.4" r="0.65"/>
<circle cx="283.36" cy="422.4" r="0.65"/>
<circle cx="289.38" cy="422.4" r="0.65"/>
<circle cx="295.4" cy="422.4" r="0.65"/>
<circle cx="301.42" cy="422.4" r="0.65"/>
<circle cx="307.44" cy="422.4" r="0.65"/>
<circle cx="313.46" cy="422.4" r="0.65"/>
<circle cx="319.48" cy="422.4" r="0.65"/>
<circle cx="325.5" cy="422.4" r="0.65"/>
<circle cx="331.52" cy="422.4" r="0.65"/>
<circle cx="337.54" cy="422.4" r="0.65"/>
<circle cx="343.56" cy="422.4" r="0.65"/>
<circle cx="349.58" cy="422.4" r="0.65"/>
<circle cx="355.6" cy="422.4" r="0.65"/>
<circle cx="361.62" cy="422.4" r="0.65"/>
<circle cx="367.64" cy="422.4" r="0.65"/>
<circle cx="373.66" cy="422.4" r="0.65"/>
<circle cx="379.68" cy="422.4" r="0.65"/>
<circle cx="385.7" cy="422.4" r="0.65"/>
<circle cx="391.72" cy="422.4" r="0.65"/>
<circle cx="397.74" cy="422.4" r="0.65"/>
<circle cx="403.76" cy="422.4" r="0.65"/>
<circle cx="409.78" cy="422.4" r="0.65"/>
<circle cx="415.8" cy="422.4" r="0.65"/>
<circle cx="421.82" cy="422.4" r="0.65"/>
<circle cx="427.84" cy="422.4" r="0.65"/>
<circle cx="433.86" cy="422.4" r="0.65"/>
<circle cx="439.88" cy="422.4" r="0.65"/>
<circle cx="445.9" cy="422.4" r="0.65"/>
<circle cx="451.92" cy="422.4" r="0.65"/>
<circle cx="457.94" cy="422.4" r="0.65"/>
<circle cx="463.96" cy="422.4" r="0.65"/>
<circle cx="469.98" cy="422.4" r="0.65"/>
<circle cx="476" cy="422.4" r="0.65"/>
<circle cx="482.02" cy="422.4" r="0.65"/>
<circle cx="488.04" cy="422.4" r="0.65"/>
<circle cx="494.06" cy="422.4" r="0.65"/>
<circle cx="500.08" cy="422.4" r="0.65"/>
<circle cx="506.1" cy="422.4" r="0.65"/>
<circle cx="512.12" cy="422.4" r="0.65"/>
<circle cx="518.14" cy="422.4" r="0.65"/>
<circle cx="524.16" cy="422.4" r="0.65"/>
<circle cx="530.18" cy="422.4" r="0.65"/>
<circle cx="536.2" cy="422.4" r="0.65"/>
<circle cx="542.22" cy="422.4" r="0.65"/>
<circle cx="548.24" cy="422.4" r="0.65"/>
<circle cx="554.26" cy="422.4" r="0.65"/>
<circle cx="560.28" cy="422.4" r="0.65"/>
<circle cx="566.3" cy="422.4" r="0.65"/>
<circle cx="572.32" cy="422.4" r="0.65"/>
<circle cx="578.34" cy="422.4" r="0.65"/>
<circle cx="584.36" cy="422.4" r="0.65"/>
<circle cx="590.38" cy="422.4" r="0.65"/>
<circle cx="596.4" cy="422.4" r="0.65"/>
<circle cx="54.6" cy="430.9" r="0.65"/>
<circle cx="60.62" cy="430.9" r="0.65"/>
<circle cx="66.64" cy="430.9" r="0.65"/>
<circle cx="72.66" cy="430.9" r="0.65"/>
<circle cx="78.68" cy="430.9" r="0.65"/>
<circle cx="84.7" cy="430.9" r="0.65"/>
<circle cx="90.72" cy="430.9" r="0.65"/>
<circle cx="96.74" cy="430.9" r="0.65"/>
<circle cx="102.76" cy="430.9" r="0.65"/>
<circle cx="108.78" cy="430.9" r="0.65"/>
<circle cx="114.8" cy="430.9" r="0.65"/>
<circle cx="120.82" cy="430.9" r="0.65"/>
<circle cx="126.84" cy="430.9" r="0.65"/>
<circle cx="132.86" cy="430.9" r="0.65"/>
<circle cx="138.88" cy="430.9" r="0.65"/>
<circle cx="144.9" cy="430.9" r="0.65"/>
<circle cx="150.92" cy="430.9" r="0.65"/>
<circle cx="156.94" cy="430.9" r="0.65"/>
<circle cx="162.96" cy="430.9" r="0.65"/>
<circle cx="168.98" cy="430.9" r="0.65"/>
<circle cx="175" cy="430.9" r="0.65"/>
<circle cx="181.02" cy="430.9" r="0.65"/>
<circle cx="187.04" cy="430.9" r="0.65"/>
<circle cx="193.06" cy="430.9" r="0.65"/>
<circle cx="199.08" cy="430.9" r="0.65"/>
<circle cx="205.1" cy="430.9" r="0.65"/>
<circle cx="211.12" cy="430.9" r="0.65"/>
<circle cx="217.14" cy="430.9" r="0.65"/>
<circle cx="223.16" cy="430.9" r="0.65"/>
<circle cx="229.18" cy="430.9" r="0.65"/>
<circle cx="235.2" cy="430.9" r="0.65"/>
<circle cx="241.22" cy="430.9" r="0.65"/>
<circle cx="247.24" cy="430.9" r="0.65"/>
<circle cx="253.26" cy="430.9" r="0.65"/>
<circle cx="259.28" cy="430.9" r="0.65"/>
<circle cx="265.3" cy="430.9" r="0.65"/>
<circle cx="271.32" cy="430.9" r="0.65"/>
<circle cx="277.34" cy="430.9" r="0.65"/>
<circle cx="283.36" cy="430.9" r="0.65"/>
<circle cx="289.38" cy="430.9" r="0.65"/>
<circle cx="295.4" cy="430.9" r="0.65"/>
<circle cx="301.42" cy="430.9" r="0.65"/>
<circle cx="307.44" cy="430.9" r="0.65"/>
<circle cx="313.46" cy="430.9" r="0.65"/>
<circle cx="319.48" cy="430.9" r="0.65"/>
<circle cx="325.5" cy="430.9" r="0.65"/>
<circle cx="331.52" cy="430.9" r="0.65"/>
<circle cx="337.54" cy="430.9" r="0.65"/>
<circle cx="343.56" cy="430.9" r="0.65"/>
<circle cx="349.58" cy="430.9" r="0.65"/>
<circle cx="355.6" cy="430.9" r="0.65"/>
<circle cx="361.62" cy="430.9" r="0.65"/>
<circle cx="367.64" cy="430.9" r="0.65"/>
<circle cx="373.66" cy="430.9" r="0.65"/>
<circle cx="379.68" cy="430.9" r="0.65"/>
<circle cx="385.7" cy="430.9" r="0.65"/>
<circle cx="391.72" cy="430.9" r="0.65"/>
<circle cx="397.74" cy="430.9" r="0.65"/>
<circle cx="403.76" cy="430.9" r="0.65"/>
<circle cx="409.78" cy="430.9" r="0.65"/>
<circle cx="415.8" cy="430.9" r="0.65"/>
<circle cx="421.82" cy="430.9" r="0.65"/>
<circle cx="427.84" cy="430.9" r="0.65"/>
<circle cx="433.86" cy="430.9" r="0.65"/>
<circle cx="439.88" cy="430.9" r="0.65"/>
<circle cx="445.9" cy="430.9" r="0.65"/>
<circle cx="451.92" cy="430.9" r="0.65"/>
<circle cx="457.94" cy="430.9" r="0.65"/>
<circle cx="463.96" cy="430.9" r="0.65"/>
<circle cx="469.98" cy="430.9" r="0.65"/>
<circle cx="476" cy="430.9" r="0.65"/>
<circle cx="482.02" cy="430.9" r="0.65"/>
<circle cx="488.04" cy="430.9" r="0.65"/>
<circle cx="494.06" cy="430.9" r="0.65"/>
<circle cx="500.08" cy="430.9" r="0.65"/>
<circle cx="506.1" cy="430.9" r="0.65"/>
<circle cx="512.12" cy="430.9" r="0.65"/>
<circle cx="518.14" cy="430.9" r="0.65"/>
<circle cx="524.16" cy="430.9" r="0.65"/>
<circle cx="530.18" cy="430.9" r="0.65"/>
<circle cx="536.2" cy="430.9" r="0.65"/>
<circle cx="542.22" cy="430.9" r="0.65"/>
<circle cx="548.24" cy="430.9" r="0.65"/>
<circle cx="554.26" cy="430.9" r="0.65"/>
<circle cx="560.28" cy="430.9" r="0.65"/>
<circle cx="566.3" cy="430.9" r="0.65"/>
<circle cx="572.32" cy="430.9" r="0.65"/>
<circle cx="578.34" cy="430.9" r="0.65"/>
<circle cx="584.36" cy="430.9" r="0.65"/>
<circle cx="590.38" cy="430.9" r="0.65"/>
<circle cx="596.4" cy="430.9" r="0.65"/>
<circle cx="54.6" cy="439.4" r="0.65"/>
<circle cx="60.62" cy="439.4" r="0.65"/>
<circle cx="66.64" cy="439.4" r="0.65"/>
<circle cx="72.66" cy="439.4" r="0.65"/>
<circle cx="78.68" cy="439.4" r="0.65"/>
<circle cx="84.7" cy="439.4" r="0.65"/>
<circle cx="90.72" cy="439.4" r="0.65"/>
<circle cx="96.74" cy="439.4" r="0.65"/>
<circle cx="102.76" cy="439.4" r="0.65"/>
<circle cx="108.78" cy="439.4" r="0.65"/>
<circle cx="114.8" cy="439.4" r="0.65"/>
<circle cx="120.82" cy="439.4" r="0.65"/>
<circle cx="126.84" cy="439.4" r="0.65"/>
<circle cx="132.86" cy="439.4" r="0.65"/>
<circle cx="138.88" cy="439.4" r="0.65"/>
<circle cx="144.9" cy="439.4" r="0.65"/>
<circle cx="150.92" cy="439.4" r="0.65"/>
<circle cx="156.94" cy="439.4" r="0.65"/>
<circle cx="162.96" cy="439.4" r="0.65"/>
<circle cx="168.98" cy="439.4" r="0.65"/>
<circle cx="175" cy="439.4" r="0.65"/>
<circle cx="181.02" cy="439.4" r="0.65"/>
<circle cx="187.04" cy="439.4" r="0.65"/>
<circle cx="193.06" cy="439.4" r="0.65"/>
<circle cx="199.08" cy="439.4" r="0.65"/>
<circle cx="205.1" cy="439.4" r="0.65"/>
<circle cx="211.12" cy="439.4" r="0.65"/>
<circle cx="217.14" cy="439.4" r="0.65"/>
<circle cx="223.16" cy="439.4" r="0.65"/>
<circle cx="229.18" cy="439.4" r="0.65"/>
<circle cx="235.2" cy="439.4" r="0.65"/>
<circle cx="241.22" cy="439.4" r="0.65"/>
<circle cx="247.24" cy="439.4" r="0.65"/>
<circle cx="253.26" cy="439.4" r="0.65"/>
<circle cx="259.28" cy="439.4" r="0.65"/>
<circle cx="265.3" cy="439.4" r="0.65"/>
<circle cx="271.32" cy="439.4" r="0.65"/>
<circle cx="277.34" cy="439.4" r="0.65"/>
<circle cx="283.36" cy="439.4" r="0.65"/>
<circle cx="289.38" cy="439.4" r="0.65"/>
<circle cx="295.4" cy="439.4" r="0.65"/>
<circle cx="301.42" cy="439.4" r="0.65"/>
<circle cx="307.44" cy="439.4" r="0.65"/>
<circle cx="313.46" cy="439.4" r="0.65"/>
<circle cx="319.48" cy="439.4" r="0.65"/>
<circle cx="325.5" cy="439.4" r="0.65"/>
<circle cx="331.52" cy="439.4" r="0.65"/>
<circle cx="337.54" cy="439.4" r="0.65"/>
<circle cx="343.56" cy="439.4" r="0.65"/>
<circle cx="349.58" cy="439.4" r="0.65"/>
<circle cx="355.6" cy="439.4" r="0.65"/>
<circle cx="361.62" cy="439.4" r="0.65"/>
<circle cx="367.64" cy="439.4" r="0.65"/>
<circle cx="373.66" cy="439.4" r="0.65"/>
<circle cx="379.68" cy="439.4" r="0.65"/>
<circle cx="385.7" cy="439.4" r="0.65"/>
<circle cx="391.72" cy="439.4" r="0.65"/>
<circle cx="397.74" cy="439.4" r="0.65"/>
<circle cx="403.76" cy="439.4" r="0.65"/>
<circle cx="409.78" cy="439.4" r="0.65"/>
<circle cx="415.8" cy="439.4" r="0.65"/>
<circle cx="421.82" cy="439.4" r="0.65"/>
<circle cx="427.84" cy="439.4" r="0.65"/>
<circle cx="433.86" cy="439.4" r="0.65"/>
<circle cx="439.88" cy="439.4" r="0.65"/>
<circle cx="445.9" cy="439.4" r="0.65"/>
<circle cx="451.92" cy="439.4" r="0.65"/>
<circle cx="457.94" cy="439.4" r="0.65"/>
<circle cx="463.96" cy="439.4" r="0.65"/>
<circle cx="469.98" cy="439.4" r="0.65"/>
<circle cx="476" cy="439.4" r="0.65"/>
<circle cx="482.02" cy="439.4" r="0.65"/>
<circle cx="488.04" cy="439.4" r="0.65"/>
<circle cx="494.06" cy="439.4" r="0.65"/>
<circle cx="500.08" cy="439.4" r="0.65"/>
<circle cx="506.1" cy="439.4" r="0.65"/>
<circle cx="512.12" cy="439.4" r="0.65"/>
<circle cx="518.14" cy="439.4" r="0.65"/>
<circle cx="524.16" cy="439.4" r="0.65"/>
<circle cx="530.18" cy="439.4" r="0.65"/>
<circle cx="536.2" cy="439.4" r="0.65"/>
<circle cx="542.22" cy="439.4" r="0.65"/>
<circle cx="548.24" cy="439.4" r="0.65"/>
<circle cx="554.26" cy="439.4" r="0.65"/>
<circle cx="560.28" cy="439.4" r="0.65"/>
<circle cx="566.3" cy="439.4" r="0.65"/>
<circle cx="572.32" cy="439.4" r="0.65"/>
<circle cx="578.34" cy="439.4" r="0.65"/>
<circle cx="584.36" cy="439.4" r="0.65"/>
<circle cx="590.38" cy="439.4" r="0.65"/>
<circle cx="596.4" cy="439.4" r="0.65"/>
<circle cx="54.6" cy="447.9" r="0.65"/>
<circle cx="60.62" cy="447.9" r="0.65"/>
<circle cx="66.64" cy="447.9" r="0.65"/>
<circle cx="72.66" cy="447.9" r="0.65"/>
<circle cx="78.68" cy="447.9" r="0.65"/>
<circle cx="84.7" cy="447.9" r="0.65"/>
<circle cx="90.72" cy="447.9" r="0.65"/>
<circle cx="96.74" cy="447.9" r="0.65"/>
<circle cx="102.76" cy="447.9" r="0.65"/>
<circle cx="108.78" cy="447.9" r="0.65"/>
<circle cx="114.8" cy="447.9" r="0.65"/>
<circle cx="120.82" cy="447.9" r="0.65"/>
<circle cx="126.84" cy="447.9" r="0.65"/>
<circle cx="132.86" cy="447.9" r="0.65"/>
<circle cx="138.88" cy="447.9" r="0.65"/>
<circle cx="144.9" cy="447.9" r="0.65"/>
<circle cx="150.92" cy="447.9" r="0.65"/>
<circle cx="156.94" cy="447.9" r="0.65"/>
<circle cx="162.96" cy="447.9" r="0.65"/>
<circle cx="168.98" cy="447.9" r="0.65"/>
<circle cx="175" cy="447.9" r="0.65"/>
<circle cx="181.02" cy="447.9" r="0.65"/>
<circle cx="187.04" cy="447.9" r="0.65"/>
<circle cx="193.06" cy="447.9" r="0.65"/>
<circle cx="199.08" cy="447.9" r="0.65"/>
<circle cx="205.1" cy="447.9" r="0.65"/>
<circle cx="211.12" cy="447.9" r="0.65"/>
<circle cx="217.14" cy="447.9" r="0.65"/>
<circle cx="223.16" cy="447.9" r="0.65"/>
<circle cx="229.18" cy="447.9" r="0.65"/>
<circle cx="235.2" cy="447.9" r="0.65"/>
<circle cx="241.22" cy="447.9" r="0.65"/>
<circle cx="247.24" cy="447.9" r="0.65"/>
<circle cx="253.26" cy="447.9" r="0.65"/>
<circle cx="259.28" cy="447.9" r="0.65"/>
<circle cx="265.3" cy="447.9" r="0.65"/>
<circle cx="271.32" cy="447.9" r="0.65"/>
<circle cx="277.34" cy="447.9" r="0.65"/>
<circle cx="283.36" cy="447.9" r="0.65"/>
<circle cx="289.38" cy="447.9" r="0.65"/>
<circle cx="295.4" cy="447.9" r="0.65"/>
<circle cx="301.42" cy="447.9" r="0.65"/>
<circle cx="307.44" cy="447.9" r="0.65"/>
<circle cx="313.46" cy="447.9" r="0.65"/>
<circle cx="319.48" cy="447.9" r="0.65"/>
<circle cx="325.5" cy="447.9" r="0.65"/>
<circle cx="331.52" cy="447.9" r="0.65"/>
<circle cx="337.54" cy="447.9" r="0.65"/>
<circle cx="343.56" cy="447.9" r="0.65"/>
<circle cx="349.58" cy="447.9" r="0.65"/>
<circle cx="355.6" cy="447.9" r="0.65"/>
<circle cx="361.62" cy="447.9" r="0.65"/>
<circle cx="367.64" cy="447.9" r="0.65"/>
<circle cx="373.66" cy="447.9" r="0.65"/>
<circle cx="379.68" cy="447.9" r="0.65"/>
<circle cx="385.7" cy="447.9" r="0.65"/>
<circle cx="391.72" cy="447.9" r="0.65"/>
<circle cx="397.74" cy="447.9" r="0.65"/>
<circle cx="403.76" cy="447.9" r="0.65"/>
<circle cx="409.78" cy="447.9" r="0.65"/>
<circle cx="415.8" cy="447.9" r="0.65"/>
<circle cx="421.82" cy="447.9" r="0.65"/>
<circle cx="427.84" cy="447.9" r="0.65"/>
<circle cx="433.86" cy="447.9" r="0.65"/>
<circle cx="439.88" cy="447.9" r="0.65"/>
<circle cx="445.9" cy="447.9" r="0.65"/>
<circle cx="451.92" cy="447.9" r="0.65"/>
<circle cx="457.94" cy="447.9" r="0.65"/>
<circle cx="463.96" cy="447.9" r="0.65"/>
<circle cx="469.98" cy="447.9" r="0.65"/>
<circle cx="476" cy="447.9" r="0.65"/>
<circle cx="482.02" cy="447.9" r="0.65"/>
<circle cx="488.04" cy="447.9" r="0.65"/>
<circle cx="494.06" cy="447.9" r="0.65"/>
<circle cx="500.08" cy="447.9" r="0.65"/>
<circle cx="506.1" cy="447.9" r="0.65"/>
<circle cx="512.12" cy="447.9" r="0.65"/>
<circle cx="518.14" cy="447.9" r="0.65"/>
<circle cx="524.16" cy="447.9" r="0.65"/>
<circle cx="530.18" cy="447.9" r="0.65"/>
<circle cx="536.2" cy="447.9" r="0.65"/>
<circle cx="542.22" cy="447.9" r="0.65"/>
<circle cx="548.24" cy="447.9" r="0.65"/>
<circle cx="554.26" cy="447.9" r="0.65"/>
<circle cx="560.28" cy="447.9" r="0.65"/>
<circle cx="566.3" cy="447.9" r="0.65"/>
<circle cx="572.32" cy="447.9" r="0.65"/>
<circle cx="578.34" cy="447.9" r="0.65"/>
<circle cx="584.36" cy="447.9" r="0.65"/>
<circle cx="590.38" cy="447.9" r="0.65"/>
<circle cx="596.4" cy="447.9" r="0.65"/>
<circle cx="54.6" cy="456.4" r="0.65"/>
<circle cx="60.62" cy="456.4" r="0.65"/>
<circle cx="66.64" cy="456.4" r="0.65"/>
<circle cx="72.66" cy="456.4" r="0.65"/>
<circle cx="78.68" cy="456.4" r="0.65"/>
<circle cx="84.7" cy="456.4" r="0.65"/>
<circle cx="90.72" cy="456.4" r="0.65"/>
<circle cx="96.74" cy="456.4" r="0.65"/>
<circle cx="102.76" cy="456.4" r="0.65"/>
<circle cx="108.78" cy="456.4" r="0.65"/>
<circle cx="114.8" cy="456.4" r="0.65"/>
<circle cx="120.82" cy="456.4" r="0.65"/>
<circle cx="126.84" cy="456.4" r="0.65"/>
<circle cx="132.86" cy="456.4" r="0.65"/>
<circle cx="138.88" cy="456.4" r="0.65"/>
<circle cx="144.9" cy="456.4" r="0.65"/>
<circle cx="150.92" cy="456.4" r="0.65"/>
<circle cx="156.94" cy="456.4" r="0.65"/>
<circle cx="162.96" cy="456.4" r="0.65"/>
<circle cx="168.98" cy="456.4" r="0.65"/>
<circle cx="175" cy="456.4" r="0.65"/>
<circle cx="181.02" cy="456.4" r="0.65"/>
<circle cx="187.04" cy="456.4" r="0.65"/>
<circle cx="193.06" cy="456.4" r="0.65"/>
<circle cx="199.08" cy="456.4" r="0.65"/>
<circle cx="205.1" cy="456.4" r="0.65"/>
<circle cx="211.12" cy="456.4" r="0.65"/>
<circle cx="217.14" cy="456.4" r="0.65"/>
<circle cx="223.16" cy="456.4" r="0.65"/>
<circle cx="229.18" cy="456.4" r="0.65"/>
<circle cx="235.2" cy="456.4" r="0.65"/>
<circle cx="241.22" cy="456.4" r="0.65"/>
<circle cx="247.24" cy="456.4" r="0.65"/>
<circle cx="253.26" cy="456.4" r="0.65"/>
<circle cx="259.28" cy="456.4" r="0.65"/>
<circle cx="265.3" cy="456.4" r="0.65"/>
<circle cx="271.32" cy="456.4" r="0.65"/>
<circle cx="277.34" cy="456.4" r="0.65"/>
<circle cx="283.36" cy="456.4" r="0.65"/>
<circle cx="289.38" cy="456.4" r="0.65"/>
<circle cx="295.4" cy="456.4" r="0.65"/>
<circle cx="301.42" cy="456.4" r="0.65"/>
<circle cx="307.44" cy="456.4" r="0.65"/>
<circle cx="313.46" cy="456.4" r="0.65"/>
<circle cx="319.48" cy="456.4" r="0.65"/>
<circle cx="325.5" cy="456.4" r="0.65"/>
<circle cx="331.52" cy="456.4" r="0.65"/>
<circle cx="337.54" cy="456.4" r="0.65"/>
<circle cx="343.56" cy="456.4" r="0.65"/>
<circle cx="349.58" cy="456.4" r="0.65"/>
<circle cx="355.6" cy="456.4" r="0.65"/>
<circle cx="361.62" cy="456.4" r="0.65"/>
<circle cx="367.64" cy="456.4" r="0.65"/>
<circle cx="373.66" cy="456.4" r="0.65"/>
<circle cx="379.68" cy="456.4" r="0.65"/>
<circle cx="385.7" cy="456.4" r="0.65"/>
<circle cx="391.72" cy="456.4" r="0.65"/>
<circle cx="397.74" cy="456.4" r="0.65"/>
<circle cx="403.76" cy="456.4" r="0.65"/>
<circle cx="409.78" cy="456.4" r="0.65"/>
<circle cx="415.8" cy="456.4" r="0.65"/>
<circle cx="421.82" cy="456.4" r="0.65"/>
<circle cx="427.84" cy="456.4" r="0.65"/>
<circle cx="433.86" cy="456.4" r="0.65"/>
<circle cx="439.88" cy="456.4" r="0.65"/>
<circle cx="445.9" cy="456.4" r="0.65"/>
<circle cx="451.92" cy="456.4" r="0.65"/>
<circle cx="457.94" cy="456.4" r="0.65"/>
<circle cx="463.96" cy="456.4" r="0.65"/>
<circle cx="469.98" cy="456.4" r="0.65"/>
<circle cx="476" cy="456.4" r="0.65"/>
<circle cx="482.02" cy="456.4" r="0.65"/>
<circle cx="488.04" cy="456.4" r="0.65"/>
<circle cx="494.06" cy="456.4" r="0.65"/>
<circle cx="500.08" cy="456.4" r="0.65"/>
<circle cx="506.1" cy="456.4" r="0.65"/>
<circle cx="512.12" cy="456.4" r="0.65"/>
<circle cx="518.14" cy="456.4" r="0.65"/>
<circle cx="524.16" cy="456.4" r="0.65"/>
<circle cx="530.18" cy="456.4" r="0.65"/>
<circle cx="536.2" cy="456.4" r="0.65"/>
<circle cx="542.22" cy="456.4" r="0.65"/>
<circle cx="548.24" cy="456.4" r="0.65"/>
<circle cx="554.26" cy="456.4" r="0.65"/>
<circle cx="560.28" cy="456.4" r="0.65"/>
<circle cx="566.3" cy="456.4" r="0.65"/>
<circle cx="572.32" cy="456.4" r="0.65"/>
<circle cx="578.34" cy="456.4" r="0.65"/>
<circle cx="584.36" cy="456.4" r="0.65"/>
<circle cx="590.38" cy="456.4" r="0.65"/>
<circle cx="596.4" cy="456.4" r="0.65"/>
</g>
</g>
<polyline points="48.7,421.7 601.5,421.7 601.5,457.9" fill="none" stroke="#8a806d" stroke-width="1.15" stroke-linejoin="round"/>
<line x1="48.7" y1="457.9" x2="48.7" y2="461.8" stroke="#707070" stroke-width="1"/>
<line x1="58.23" y1="457.9" x2="58.23" y2="461.8" stroke="#707070" stroke-width="1"/>
<line x1="67.76" y1="457.9" x2="67.76" y2="463.8" stroke="#585858" stroke-width="1.5"/>
<line x1="77.29" y1="457.9" x2="77.29" y2="461.8" stroke="#707070" stroke-width="1"/>
<line x1="86.82" y1="457.9" x2="86.82" y2="461.8" stroke="#707070" stroke-width="1"/>
<line x1="96.36" y1="457.9" x2="96.36" y2="461.8" stroke="#707070" stroke-width="1"/>
<line x1="105.89" y1="457.9" x2="105.89" y2="463.8" stroke="#585858" stroke-width="1.5"/>
<line x1="115.42" y1="457.9" x2="115.42" y2="461.8" stroke="#707070" stroke-width="1"/>
<line x1="124.95" y1="457.9" x2="124.95" y2="461.8" stroke="#707070" stroke-width="1"/>
<line x1="134.48" y1="457.9" x2="134.48" y2="461.8" stroke="#707070" stroke-width="1"/>
<line x1="144.01" y1="457.9" x2="144.01" y2="463.8" stroke="#585858" stroke-width="1.5"/>
<line x1="153.54" y1="457.9" x2="153.54" y2="461.8" stroke="#707070" stroke-width="1"/>
<line x1="163.07" y1="457.9" x2="163.07" y2="461.8" stroke="#707070" stroke-width="1"/>
<line x1="172.6" y1="457.9" x2="172.6" y2="461.8" stroke="#707070" stroke-width="1"/>
<line x1="182.13" y1="457.9" x2="182.13" y2="463.8" stroke="#585858" stroke-width="1.5"/>
<line x1="191.67" y1="457.9" x2="191.67" y2="461.8" stroke="#707070" stroke-width="1"/>
<line x1="201.2" y1="457.9" x2="201.2" y2="461.8" stroke="#707070" stroke-width="1"/>
<line x1="210.73" y1="457.9" x2="210.73" y2="461.8" stroke="#707070" stroke-width="1"/>
<line x1="220.26" y1="457.9" x2="220.26" y2="463.8" stroke="#585858" stroke-width="1.5"/>
<line x1="229.79" y1="457.9" x2="229.79" y2="461.8" stroke="#707070" stroke-width="1"/>
<line x1="239.32" y1="457.9" x2="239.32" y2="461.8" stroke="#707070" stroke-width="1"/>
<line x1="248.85" y1="457.9" x2="248.85" y2="461.8" stroke="#707070" stroke-width="1"/>
<line x1="258.38" y1="457.9" x2="258.38" y2="463.8" stroke="#585858" stroke-width="1.5"/>
<line x1="267.91" y1="457.9" x2="267.91" y2="461.8" stroke="#707070" stroke-width="1"/>
<line x1="277.44" y1="457.9" x2="277.44" y2="461.8" stroke="#707070" stroke-width="1"/>
<line x1="286.98" y1="457.9" x2="286.98" y2="461.8" stroke="#707070" stroke-width="1"/>
<line x1="296.51" y1="457.9" x2="296.51" y2="463.8" stroke="#585858" stroke-width="1.5"/>
<line x1="306.04" y1="457.9" x2="306.04" y2="461.8" stroke="#707070" stroke-width="1"/>
<line x1="315.57" y1="457.9" x2="315.57" y2="461.8" stroke="#707070" stroke-width="1"/>
<line x1="325.1" y1="457.9" x2="325.1" y2="461.8" stroke="#707070" stroke-width="1"/>
<line x1="334.63" y1="457.9" x2="334.63" y2="463.8" stroke="#585858" stroke-width="1.5"/>
<line x1="344.16" y1="457.9" x2="344.16" y2="461.8" stroke="#707070" stroke-width="1"/>
<line x1="353.69" y1="457.9" x2="353.69" y2="461.8" stroke="#707070" stroke-width="1"/>
<line x1="363.22" y1="457.9" x2="363.22" y2="461.8" stroke="#707070" stroke-width="1"/>
<line x1="372.76" y1="457.9" x2="372.76" y2="463.8" stroke="#585858" stroke-width="1.5"/>
<line x1="382.29" y1="457.9" x2="382.29" y2="461.8" stroke="#707070" stroke-width="1"/>
<line x1="391.82" y1="457.9" x2="391.82" y2="461.8" stroke="#707070" stroke-width="1"/>
<line x1="401.35" y1="457.9" x2="401.35" y2="461.8" stroke="#707070" stroke-width="1"/>
<line x1="410.88" y1="457.9" x2="410.88" y2="463.8" stroke="#585858" stroke-width="1.5"/>
<line x1="420.41" y1="457.9" x2="420.41" y2="461.8" stroke="#707070" stroke-width="1"/>
<line x1="429.94" y1="457.9" x2="429.94" y2="461.8" stroke="#707070" stroke-width="1"/>
<line x1="439.47" y1="457.9" x2="439.47" y2="461.8" stroke="#707070" stroke-width="1"/>
<line x1="449" y1="457.9" x2="449" y2="463.8" stroke="#585858" stroke-width="1.5"/>
<line x1="458.53" y1="457.9" x2="458.53" y2="461.8" stroke="#707070" stroke-width="1"/>
<line x1="468.07" y1="457.9" x2="468.07" y2="461.8" stroke="#707070" stroke-width="1"/>
<line x1="477.6" y1="457.9" x2="477.6" y2="461.8" stroke="#707070" stroke-width="1"/>
<line x1="487.13" y1="457.9" x2="487.13" y2="463.8" stroke="#585858" stroke-width="1.5"/>
<line x1="496.66" y1="457.9" x2="496.66" y2="461.8" stroke="#707070" stroke-width="1"/>
<line x1="506.19" y1="457.9" x2="506.19" y2="461.8" stroke="#707070" stroke-width="1"/>
<line x1="515.72" y1="457.9" x2="515.72" y2="461.8" stroke="#707070" stroke-width="1"/>
<line x1="525.25" y1="457.9" x2="525.25" y2="463.8" stroke="#585858" stroke-width="1.5"/>
<line x1="534.78" y1="457.9" x2="534.78" y2="461.8" stroke="#707070" stroke-width="1"/>
<line x1="544.31" y1="457.9" x2="544.31" y2="461.8" stroke="#707070" stroke-width="1"/>
<line x1="553.84" y1="457.9" x2="553.84" y2="461.8" stroke="#707070" stroke-width="1"/>
<line x1="563.38" y1="457.9" x2="563.38" y2="463.8" stroke="#585858" stroke-width="1.5"/>
<line x1="572.91" y1="457.9" x2="572.91" y2="461.8" stroke="#707070" stroke-width="1"/>
<line x1="582.44" y1="457.9" x2="582.44" y2="461.8" stroke="#707070" stroke-width="1"/>
<line x1="591.97" y1="457.9" x2="591.97" y2="461.8" stroke="#707070" stroke-width="1"/>
<line x1="601.5" y1="457.9" x2="601.5" y2="463.8" stroke="#585858" stroke-width="1.5"/>
<polyline points="48.7,421.7 48.7,457.9 602,457.9" fill="none" stroke="#5f5443" stroke-width="1.25" stroke-linejoin="round"/>
<text x="33.5" y="482.6" font-size="12" text-anchor="start" fill="#333333" textLength="188.8" lengthAdjust="spacingAndGlyphs">Daily mean of 10m Wind Speed (m/s)</text>
<g stroke-dasharray="4.3 3.7" stroke-width="1" fill="none">
<line x1="48.7" y1="592.5" x2="601.5" y2="592.5" stroke="#dbdbdb" stroke-width="1"/>
<line x1="48.7" y1="566.5" x2="601.5" y2="566.5" stroke="#dbdbdb" stroke-width="1"/>
<line x1="48.7" y1="540.5" x2="601.5" y2="540.5" stroke="#dbdbdb" stroke-width="1"/>
<line x1="48.7" y1="514.5" x2="601.5" y2="514.5" stroke="#dbdbdb" stroke-width="1"/>
<line x1="67.76" y1="606.3" x2="67.76" y2="490.8" stroke="#d3d3d3" stroke-width="1"/>
<line x1="105.89" y1="606.3" x2="105.89" y2="490.8" stroke="#d3d3d3" stroke-width="1"/>
<line x1="144.01" y1="606.3" x2="144.01" y2="490.8" stroke="#d3d3d3" stroke-width="1"/>
<line x1="182.13" y1="606.3" x2="182.13" y2="490.8" stroke="#d3d3d3" stroke-width="1"/>
<line x1="220.26" y1="606.3" x2="220.26" y2="490.8" stroke="#d3d3d3" stroke-width="1"/>
<line x1="258.38" y1="606.3" x2="258.38" y2="490.8" stroke="#d3d3d3" stroke-width="1"/>
<line x1="296.51" y1="606.3" x2="296.51" y2="490.8" stroke="#d3d3d3" stroke-width="1"/>
<line x1="334.63" y1="606.3" x2="334.63" y2="490.8" stroke="#d3d3d3" stroke-width="1"/>
<line x1="372.76" y1="606.3" x2="372.76" y2="490.8" stroke="#d3d3d3" stroke-width="1"/>
<line x1="410.88" y1="606.3" x2="410.88" y2="490.8" stroke="#d3d3d3" stroke-width="1"/>
<line x1="449" y1="606.3" x2="449" y2="490.8" stroke="#d3d3d3" stroke-width="1"/>
<line x1="487.13" y1="606.3" x2="487.13" y2="490.8" stroke="#d3d3d3" stroke-width="1"/>
<line x1="525.25" y1="606.3" x2="525.25" y2="490.8" stroke="#d3d3d3" stroke-width="1"/>
<line x1="563.38" y1="606.3" x2="563.38" y2="490.8" stroke="#d3d3d3" stroke-width="1"/>
</g>
<g>
<line x1="86.82" y1="518.6" x2="86.82" y2="563.8" stroke="#3e3e3e" stroke-width="1.15"/>
<rect x="84.44" y="525.8" width="4.77" height="36.4" fill="#c9961c" stroke="#2a3030" stroke-width="0.95"/>
<rect x="82.06" y="535.2" width="9.53" height="16" fill="#c9961c" stroke="#2a3030" stroke-width="0.95"/>
<line x1="82.06" y1="542.6" x2="91.59" y2="542.6" stroke="#1c1c1c" stroke-width="0.6"/>
<line x1="124.95" y1="491" x2="124.95" y2="539.8" stroke="#3e3e3e" stroke-width="1.15"/>
<rect x="122.57" y="505.6" width="4.77" height="29" fill="#c9961c" stroke="#2a3030" stroke-width="0.95"/>
<rect x="120.18" y="511.2" width="9.53" height="17" fill="#c9961c" stroke="#2a3030" stroke-width="0.95"/>
<line x1="120.18" y1="522.2" x2="129.71" y2="522.2" stroke="#1c1c1c" stroke-width="0.6"/>
<line x1="163.07" y1="543.8" x2="163.07" y2="577.8" stroke="#3e3e3e" stroke-width="1.15"/>
<rect x="160.69" y="552.2" width="4.77" height="21.4" fill="#c9961c" stroke="#2a3030" stroke-width="0.95"/>
<rect x="158.31" y="558.6" width="9.53" height="12.6" fill="#c9961c" stroke="#2a3030" stroke-width="0.95"/>
<line x1="158.31" y1="564.6" x2="167.84" y2="564.6" stroke="#1c1c1c" stroke-width="0.6"/>
<line x1="201.2" y1="568.2" x2="201.2" y2="601.2" stroke="#3e3e3e" stroke-width="1.15"/>
<rect x="198.81" y="579.8" width="4.77" height="16.4" fill="#c9961c" stroke="#2a3030" stroke-width="0.95"/>
<rect x="196.43" y="582.8" width="9.53" height="9.4" fill="#c9961c" stroke="#2a3030" stroke-width="0.95"/>
<line x1="196.43" y1="585.2" x2="205.96" y2="585.2" stroke="#1c1c1c" stroke-width="0.6"/>
<line x1="239.32" y1="565.2" x2="239.32" y2="605.4" stroke="#3e3e3e" stroke-width="1.15"/>
<rect x="236.94" y="581.2" width="4.77" height="18.6" fill="#c9961c" stroke="#2a3030" stroke-width="0.95"/>
<rect x="234.56" y="584.2" width="9.53" height="11" fill="#c9961c" stroke="#2a3030" stroke-width="0.95"/>
<line x1="234.56" y1="589.6" x2="244.09" y2="589.6" stroke="#1c1c1c" stroke-width="0.6"/>
<line x1="277.44" y1="503.6" x2="277.44" y2="600.6" stroke="#3e3e3e" stroke-width="1.15"/>
<rect x="275.06" y="544.2" width="4.77" height="46" fill="#c9961c" stroke="#2a3030" stroke-width="0.95"/>
<rect x="272.68" y="546.6" width="9.53" height="27.6" fill="#c9961c" stroke="#2a3030" stroke-width="0.95"/>
<line x1="272.68" y1="565.8" x2="282.21" y2="565.8" stroke="#1c1c1c" stroke-width="0.6"/>
<line x1="315.57" y1="513.2" x2="315.57" y2="597.8" stroke="#3e3e3e" stroke-width="1.15"/>
<rect x="313.19" y="533.6" width="4.77" height="39.6" fill="#c9961c" stroke="#2a3030" stroke-width="0.95"/>
<rect x="310.8" y="550.8" width="9.53" height="17.4" fill="#c9961c" stroke="#2a3030" stroke-width="0.95"/>
<line x1="310.8" y1="558.6" x2="320.33" y2="558.6" stroke="#1c1c1c" stroke-width="0.6"/>
<line x1="353.69" y1="506.2" x2="353.69" y2="588.8" stroke="#3e3e3e" stroke-width="1.15"/>
<rect x="351.31" y="538.8" width="4.77" height="45" fill="#c9961c" stroke="#2a3030" stroke-width="0.95"/>
<rect x="348.93" y="549.2" width="9.53" height="24" fill="#c9961c" stroke="#2a3030" stroke-width="0.95"/>
<line x1="348.93" y1="557.6" x2="358.46" y2="557.6" stroke="#1c1c1c" stroke-width="0.6"/>
<line x1="391.82" y1="523.2" x2="391.82" y2="596.2" stroke="#3e3e3e" stroke-width="1.15"/>
<rect x="389.43" y="543.2" width="4.77" height="48" fill="#c9961c" stroke="#2a3030" stroke-width="0.95"/>
<rect x="387.05" y="556.6" width="9.53" height="31.2" fill="#c9961c" stroke="#2a3030" stroke-width="0.95"/>
<line x1="387.05" y1="575.6" x2="396.58" y2="575.6" stroke="#1c1c1c" stroke-width="0.6"/>
<line x1="429.94" y1="541.2" x2="429.94" y2="601.8" stroke="#3e3e3e" stroke-width="1.15"/>
<rect x="427.56" y="561.2" width="4.77" height="37.4" fill="#c9961c" stroke="#2a3030" stroke-width="0.95"/>
<rect x="425.18" y="570.2" width="9.53" height="19" fill="#c9961c" stroke="#2a3030" stroke-width="0.95"/>
<line x1="425.18" y1="581.8" x2="434.71" y2="581.8" stroke="#1c1c1c" stroke-width="0.6"/>
<line x1="468.07" y1="538.6" x2="468.07" y2="601.2" stroke="#3e3e3e" stroke-width="1.15"/>
<rect x="465.68" y="550.6" width="4.77" height="43.2" fill="#c9961c" stroke="#2a3030" stroke-width="0.95"/>
<rect x="463.3" y="570.8" width="9.53" height="19.4" fill="#c9961c" stroke="#2a3030" stroke-width="0.95"/>
<line x1="463.3" y1="580.2" x2="472.83" y2="580.2" stroke="#1c1c1c" stroke-width="0.6"/>
<line x1="506.19" y1="523.6" x2="506.19" y2="600.6" stroke="#3e3e3e" stroke-width="1.15"/>
<rect x="503.81" y="547.8" width="4.77" height="47.4" fill="#c9961c" stroke="#2a3030" stroke-width="0.95"/>
<rect x="501.42" y="558.6" width="9.53" height="32.6" fill="#c9961c" stroke="#2a3030" stroke-width="0.95"/>
<line x1="501.42" y1="576.6" x2="510.96" y2="576.6" stroke="#1c1c1c" stroke-width="0.6"/>
<line x1="544.31" y1="534.6" x2="544.31" y2="598.6" stroke="#3e3e3e" stroke-width="1.15"/>
<rect x="541.93" y="550.2" width="4.77" height="45" fill="#c9961c" stroke="#2a3030" stroke-width="0.95"/>
<rect x="539.55" y="565.8" width="9.53" height="22.4" fill="#c9961c" stroke="#2a3030" stroke-width="0.95"/>
<line x1="539.55" y1="574.2" x2="549.08" y2="574.2" stroke="#1c1c1c" stroke-width="0.6"/>
<line x1="582.44" y1="514.6" x2="582.44" y2="600.6" stroke="#3e3e3e" stroke-width="1.15"/>
<rect x="580.06" y="535.8" width="4.77" height="51.4" fill="#c9961c" stroke="#2a3030" stroke-width="0.95"/>
<rect x="577.67" y="555.2" width="9.53" height="24" fill="#c9961c" stroke="#2a3030" stroke-width="0.95"/>
<line x1="577.67" y1="571.2" x2="587.2" y2="571.2" stroke="#1c1c1c" stroke-width="0.6"/>
</g>
<g opacity="0.3">
<g stroke-dasharray="4.3 3.7" stroke-width="1" fill="none">
<line x1="48.7" y1="592.5" x2="601.5" y2="592.5" stroke="#dbdbdb" stroke-width="1"/>
<line x1="48.7" y1="566.5" x2="601.5" y2="566.5" stroke="#dbdbdb" stroke-width="1"/>
<line x1="48.7" y1="540.5" x2="601.5" y2="540.5" stroke="#dbdbdb" stroke-width="1"/>
<line x1="48.7" y1="514.5" x2="601.5" y2="514.5" stroke="#dbdbdb" stroke-width="1"/>
<line x1="67.76" y1="606.3" x2="67.76" y2="490.8" stroke="#d3d3d3" stroke-width="1"/>
<line x1="105.89" y1="606.3" x2="105.89" y2="490.8" stroke="#d3d3d3" stroke-width="1"/>
<line x1="144.01" y1="606.3" x2="144.01" y2="490.8" stroke="#d3d3d3" stroke-width="1"/>
<line x1="182.13" y1="606.3" x2="182.13" y2="490.8" stroke="#d3d3d3" stroke-width="1"/>
<line x1="220.26" y1="606.3" x2="220.26" y2="490.8" stroke="#d3d3d3" stroke-width="1"/>
<line x1="258.38" y1="606.3" x2="258.38" y2="490.8" stroke="#d3d3d3" stroke-width="1"/>
<line x1="296.51" y1="606.3" x2="296.51" y2="490.8" stroke="#d3d3d3" stroke-width="1"/>
<line x1="334.63" y1="606.3" x2="334.63" y2="490.8" stroke="#d3d3d3" stroke-width="1"/>
<line x1="372.76" y1="606.3" x2="372.76" y2="490.8" stroke="#d3d3d3" stroke-width="1"/>
<line x1="410.88" y1="606.3" x2="410.88" y2="490.8" stroke="#d3d3d3" stroke-width="1"/>
<line x1="449" y1="606.3" x2="449" y2="490.8" stroke="#d3d3d3" stroke-width="1"/>
<line x1="487.13" y1="606.3" x2="487.13" y2="490.8" stroke="#d3d3d3" stroke-width="1"/>
<line x1="525.25" y1="606.3" x2="525.25" y2="490.8" stroke="#d3d3d3" stroke-width="1"/>
<line x1="563.38" y1="606.3" x2="563.38" y2="490.8" stroke="#d3d3d3" stroke-width="1"/>
</g>
</g>
<polyline points="48.7,490.8 601.5,490.8 601.5,606.3" fill="none" stroke="#a59d8a" stroke-width="1.15" stroke-linejoin="round"/>
<line x1="48.7" y1="606.3" x2="48.7" y2="610.2" stroke="#707070" stroke-width="1"/>
<line x1="58.23" y1="606.3" x2="58.23" y2="610.2" stroke="#707070" stroke-width="1"/>
<line x1="67.76" y1="606.3" x2="67.76" y2="612.2" stroke="#585858" stroke-width="1.5"/>
<line x1="77.29" y1="606.3" x2="77.29" y2="610.2" stroke="#707070" stroke-width="1"/>
<line x1="86.82" y1="606.3" x2="86.82" y2="610.2" stroke="#707070" stroke-width="1"/>
<line x1="96.36" y1="606.3" x2="96.36" y2="610.2" stroke="#707070" stroke-width="1"/>
<line x1="105.89" y1="606.3" x2="105.89" y2="612.2" stroke="#585858" stroke-width="1.5"/>
<line x1="115.42" y1="606.3" x2="115.42" y2="610.2" stroke="#707070" stroke-width="1"/>
<line x1="124.95" y1="606.3" x2="124.95" y2="610.2" stroke="#707070" stroke-width="1"/>
<line x1="134.48" y1="606.3" x2="134.48" y2="610.2" stroke="#707070" stroke-width="1"/>
<line x1="144.01" y1="606.3" x2="144.01" y2="612.2" stroke="#585858" stroke-width="1.5"/>
<line x1="153.54" y1="606.3" x2="153.54" y2="610.2" stroke="#707070" stroke-width="1"/>
<line x1="163.07" y1="606.3" x2="163.07" y2="610.2" stroke="#707070" stroke-width="1"/>
<line x1="172.6" y1="606.3" x2="172.6" y2="610.2" stroke="#707070" stroke-width="1"/>
<line x1="182.13" y1="606.3" x2="182.13" y2="612.2" stroke="#585858" stroke-width="1.5"/>
<line x1="191.67" y1="606.3" x2="191.67" y2="610.2" stroke="#707070" stroke-width="1"/>
<line x1="201.2" y1="606.3" x2="201.2" y2="610.2" stroke="#707070" stroke-width="1"/>
<line x1="210.73" y1="606.3" x2="210.73" y2="610.2" stroke="#707070" stroke-width="1"/>
<line x1="220.26" y1="606.3" x2="220.26" y2="612.2" stroke="#585858" stroke-width="1.5"/>
<line x1="229.79" y1="606.3" x2="229.79" y2="610.2" stroke="#707070" stroke-width="1"/>
<line x1="239.32" y1="606.3" x2="239.32" y2="610.2" stroke="#707070" stroke-width="1"/>
<line x1="248.85" y1="606.3" x2="248.85" y2="610.2" stroke="#707070" stroke-width="1"/>
<line x1="258.38" y1="606.3" x2="258.38" y2="612.2" stroke="#585858" stroke-width="1.5"/>
<line x1="267.91" y1="606.3" x2="267.91" y2="610.2" stroke="#707070" stroke-width="1"/>
<line x1="277.44" y1="606.3" x2="277.44" y2="610.2" stroke="#707070" stroke-width="1"/>
<line x1="286.98" y1="606.3" x2="286.98" y2="610.2" stroke="#707070" stroke-width="1"/>
<line x1="296.51" y1="606.3" x2="296.51" y2="612.2" stroke="#585858" stroke-width="1.5"/>
<line x1="306.04" y1="606.3" x2="306.04" y2="610.2" stroke="#707070" stroke-width="1"/>
<line x1="315.57" y1="606.3" x2="315.57" y2="610.2" stroke="#707070" stroke-width="1"/>
<line x1="325.1" y1="606.3" x2="325.1" y2="610.2" stroke="#707070" stroke-width="1"/>
<line x1="334.63" y1="606.3" x2="334.63" y2="612.2" stroke="#585858" stroke-width="1.5"/>
<line x1="344.16" y1="606.3" x2="344.16" y2="610.2" stroke="#707070" stroke-width="1"/>
<line x1="353.69" y1="606.3" x2="353.69" y2="610.2" stroke="#707070" stroke-width="1"/>
<line x1="363.22" y1="606.3" x2="363.22" y2="610.2" stroke="#707070" stroke-width="1"/>
<line x1="372.76" y1="606.3" x2="372.76" y2="612.2" stroke="#585858" stroke-width="1.5"/>
<line x1="382.29" y1="606.3" x2="382.29" y2="610.2" stroke="#707070" stroke-width="1"/>
<line x1="391.82" y1="606.3" x2="391.82" y2="610.2" stroke="#707070" stroke-width="1"/>
<line x1="401.35" y1="606.3" x2="401.35" y2="610.2" stroke="#707070" stroke-width="1"/>
<line x1="410.88" y1="606.3" x2="410.88" y2="612.2" stroke="#585858" stroke-width="1.5"/>
<line x1="420.41" y1="606.3" x2="420.41" y2="610.2" stroke="#707070" stroke-width="1"/>
<line x1="429.94" y1="606.3" x2="429.94" y2="610.2" stroke="#707070" stroke-width="1"/>
<line x1="439.47" y1="606.3" x2="439.47" y2="610.2" stroke="#707070" stroke-width="1"/>
<line x1="449" y1="606.3" x2="449" y2="612.2" stroke="#585858" stroke-width="1.5"/>
<line x1="458.53" y1="606.3" x2="458.53" y2="610.2" stroke="#707070" stroke-width="1"/>
<line x1="468.07" y1="606.3" x2="468.07" y2="610.2" stroke="#707070" stroke-width="1"/>
<line x1="477.6" y1="606.3" x2="477.6" y2="610.2" stroke="#707070" stroke-width="1"/>
<line x1="487.13" y1="606.3" x2="487.13" y2="612.2" stroke="#585858" stroke-width="1.5"/>
<line x1="496.66" y1="606.3" x2="496.66" y2="610.2" stroke="#707070" stroke-width="1"/>
<line x1="506.19" y1="606.3" x2="506.19" y2="610.2" stroke="#707070" stroke-width="1"/>
<line x1="515.72" y1="606.3" x2="515.72" y2="610.2" stroke="#707070" stroke-width="1"/>
<line x1="525.25" y1="606.3" x2="525.25" y2="612.2" stroke="#585858" stroke-width="1.5"/>
<line x1="534.78" y1="606.3" x2="534.78" y2="610.2" stroke="#707070" stroke-width="1"/>
<line x1="544.31" y1="606.3" x2="544.31" y2="610.2" stroke="#707070" stroke-width="1"/>
<line x1="553.84" y1="606.3" x2="553.84" y2="610.2" stroke="#707070" stroke-width="1"/>
<line x1="563.38" y1="606.3" x2="563.38" y2="612.2" stroke="#585858" stroke-width="1.5"/>
<line x1="572.91" y1="606.3" x2="572.91" y2="610.2" stroke="#707070" stroke-width="1"/>
<line x1="582.44" y1="606.3" x2="582.44" y2="610.2" stroke="#707070" stroke-width="1"/>
<line x1="591.97" y1="606.3" x2="591.97" y2="610.2" stroke="#707070" stroke-width="1"/>
<line x1="601.5" y1="606.3" x2="601.5" y2="612.2" stroke="#585858" stroke-width="1.5"/>
<line x1="40.8" y1="592.5" x2="48.7" y2="592.5" stroke="#3c3c3c" stroke-width="1.2"/>
<text x="36.3" y="594.45" font-size="9.7" text-anchor="end" fill="#333333" textLength="5.3" lengthAdjust="spacingAndGlyphs" class="gp">2</text>
<line x1="40.8" y1="566.5" x2="48.7" y2="566.5" stroke="#3c3c3c" stroke-width="1.2"/>
<text x="36.3" y="568.45" font-size="9.7" text-anchor="end" fill="#333333" textLength="5.3" lengthAdjust="spacingAndGlyphs" class="gp">4</text>
<line x1="40.8" y1="540.5" x2="48.7" y2="540.5" stroke="#3c3c3c" stroke-width="1.2"/>
<text x="36.3" y="542.45" font-size="9.7" text-anchor="end" fill="#333333" textLength="5.3" lengthAdjust="spacingAndGlyphs" class="gp">6</text>
<line x1="40.8" y1="514.5" x2="48.7" y2="514.5" stroke="#3c3c3c" stroke-width="1.2"/>
<text x="36.3" y="516.45" font-size="9.7" text-anchor="end" fill="#333333" textLength="5.3" lengthAdjust="spacingAndGlyphs" class="gp">8</text>
<polyline points="48.7,490.8 48.7,606.3 602,606.3" fill="none" stroke="#5f5443" stroke-width="1.25" stroke-linejoin="round"/>
<text x="32.8" y="632.6" font-size="12" text-anchor="start" fill="#333333" textLength="392.2" lengthAdjust="spacingAndGlyphs">2m min/max Temperature (°C) reduced to 1 m (station height) from 1 m (ENS)</text>
<g stroke-dasharray="4.3 3.7" stroke-width="1" fill="none">
<line x1="48.7" y1="720.68" x2="601.5" y2="720.68" stroke="#dbdbdb" stroke-width="1"/>
<line x1="48.7" y1="703.76" x2="601.5" y2="703.76" stroke="#dbdbdb" stroke-width="1"/>
<line x1="48.7" y1="686.84" x2="601.5" y2="686.84" stroke="#dbdbdb" stroke-width="1"/>
<line x1="48.7" y1="669.92" x2="601.5" y2="669.92" stroke="#dbdbdb" stroke-width="1"/>
<line x1="48.7" y1="653" x2="601.5" y2="653" stroke="#dbdbdb" stroke-width="1"/>
<line x1="67.76" y1="750.8" x2="67.76" y2="641.4" stroke="#bababa" stroke-width="1"/>
<line x1="105.89" y1="750.8" x2="105.89" y2="641.4" stroke="#bababa" stroke-width="1"/>
<line x1="144.01" y1="750.8" x2="144.01" y2="641.4" stroke="#bababa" stroke-width="1"/>
<line x1="182.13" y1="750.8" x2="182.13" y2="641.4" stroke="#bababa" stroke-width="1"/>
<line x1="220.26" y1="750.8" x2="220.26" y2="641.4" stroke="#bababa" stroke-width="1"/>
<line x1="258.38" y1="750.8" x2="258.38" y2="641.4" stroke="#bababa" stroke-width="1"/>
<line x1="296.51" y1="750.8" x2="296.51" y2="641.4" stroke="#bababa" stroke-width="1"/>
<line x1="334.63" y1="750.8" x2="334.63" y2="641.4" stroke="#bababa" stroke-width="1"/>
<line x1="372.76" y1="750.8" x2="372.76" y2="641.4" stroke="#bababa" stroke-width="1"/>
<line x1="410.88" y1="750.8" x2="410.88" y2="641.4" stroke="#bababa" stroke-width="1"/>
<line x1="449" y1="750.8" x2="449" y2="641.4" stroke="#bababa" stroke-width="1"/>
<line x1="487.13" y1="750.8" x2="487.13" y2="641.4" stroke="#bababa" stroke-width="1"/>
<line x1="525.25" y1="750.8" x2="525.25" y2="641.4" stroke="#bababa" stroke-width="1"/>
<line x1="563.38" y1="750.8" x2="563.38" y2="641.4" stroke="#bababa" stroke-width="1"/>
</g>
<line x1="48.7" y1="737.6" x2="601.5" y2="737.6" stroke="#c4c4c4" stroke-width="1"/>
<g>
<line x1="77.29" y1="708.5" x2="77.29" y2="725.2" stroke="#3e3e3e" stroke-width="1.15"/>
<rect x="74.91" y="710.6" width="4.77" height="12" fill="#6699ff" stroke="#2a3030" stroke-width="0.95"/>
<rect x="72.53" y="712.7" width="9.53" height="7.5" fill="#6699ff" stroke="#2a3030" stroke-width="0.95"/>
<line x1="72.53" y1="716.8" x2="82.06" y2="716.8" stroke="#1c1c1c" stroke-width="0.6"/>
<line x1="96.36" y1="679.3" x2="96.36" y2="690" stroke="#3e3e3e" stroke-width="1.15"/>
<rect x="93.97" y="681" width="4.77" height="6.3" fill="#ff0000" stroke="#2a3030" stroke-width="0.95"/>
<rect x="91.59" y="682.8" width="9.53" height="3" fill="#ff0000" stroke="#2a3030" stroke-width="0.95"/>
<line x1="91.59" y1="684.3" x2="101.12" y2="684.3" stroke="#1c1c1c" stroke-width="0.6"/>
<line x1="115.42" y1="745.7" x2="115.42" y2="750.6" stroke="#3e3e3e" stroke-width="1.15"/>
<rect x="113.03" y="746.6" width="4.77" height="3.6" fill="#6699ff" stroke="#2a3030" stroke-width="0.95"/>
<rect x="110.65" y="747.2" width="9.53" height="2.6" fill="#6699ff" stroke="#2a3030" stroke-width="0.95"/>
<line x1="110.65" y1="748.4" x2="120.18" y2="748.4" stroke="#1c1c1c" stroke-width="0.6"/>
<line x1="134.48" y1="708.6" x2="134.48" y2="719.3" stroke="#3e3e3e" stroke-width="1.15"/>
<rect x="132.1" y="710.8" width="4.77" height="6.6" fill="#ff0000" stroke="#2a3030" stroke-width="0.95"/>
<rect x="129.71" y="713.4" width="9.53" height="3.3" fill="#ff0000" stroke="#2a3030" stroke-width="0.95"/>
<line x1="129.71" y1="715.9" x2="139.24" y2="715.9" stroke="#1c1c1c" stroke-width="0.6"/>
<line x1="153.54" y1="731.8" x2="153.54" y2="738.2" stroke="#3e3e3e" stroke-width="1.15"/>
<rect x="151.16" y="733" width="4.77" height="4.4" fill="#6699ff" stroke="#2a3030" stroke-width="0.95"/>
<rect x="148.78" y="733.6" width="9.53" height="3.2" fill="#6699ff" stroke="#2a3030" stroke-width="0.95"/>
<line x1="148.78" y1="735.2" x2="158.31" y2="735.2" stroke="#1c1c1c" stroke-width="0.6"/>
<line x1="172.6" y1="695.6" x2="172.6" y2="709.8" stroke="#3e3e3e" stroke-width="1.15"/>
<rect x="170.22" y="697.8" width="4.77" height="6.4" fill="#ff0000" stroke="#2a3030" stroke-width="0.95"/>
<rect x="167.84" y="699.2" width="9.53" height="4" fill="#ff0000" stroke="#2a3030" stroke-width="0.95"/>
<line x1="167.84" y1="700.8" x2="177.37" y2="700.8" stroke="#1c1c1c" stroke-width="0.6"/>
<line x1="191.67" y1="716.2" x2="191.67" y2="727.2" stroke="#3e3e3e" stroke-width="1.15"/>
<rect x="189.28" y="718.6" width="4.77" height="6" fill="#6699ff" stroke="#2a3030" stroke-width="0.95"/>
<rect x="186.9" y="719.8" width="9.53" height="4" fill="#6699ff" stroke="#2a3030" stroke-width="0.95"/>
<line x1="186.9" y1="721.6" x2="196.43" y2="721.6" stroke="#1c1c1c" stroke-width="0.6"/>
<line x1="210.73" y1="680.6" x2="210.73" y2="695.8" stroke="#3e3e3e" stroke-width="1.15"/>
<rect x="208.34" y="684.6" width="4.77" height="9" fill="#ff0000" stroke="#2a3030" stroke-width="0.95"/>
<rect x="205.96" y="687.6" width="9.53" height="4.6" fill="#ff0000" stroke="#2a3030" stroke-width="0.95"/>
<line x1="205.96" y1="689.8" x2="215.49" y2="689.8" stroke="#1c1c1c" stroke-width="0.6"/>
<line x1="229.79" y1="698.6" x2="229.79" y2="721.2" stroke="#3e3e3e" stroke-width="1.15"/>
<rect x="227.41" y="706.8" width="4.77" height="11" fill="#6699ff" stroke="#2a3030" stroke-width="0.95"/>
<rect x="225.02" y="710.2" width="9.53" height="5.4" fill="#6699ff" stroke="#2a3030" stroke-width="0.95"/>
<line x1="225.02" y1="713.2" x2="234.56" y2="713.2" stroke="#1c1c1c" stroke-width="0.6"/>
<line x1="248.85" y1="661.2" x2="248.85" y2="684" stroke="#3e3e3e" stroke-width="1.15"/>
<rect x="246.47" y="665.6" width="4.77" height="13.6" fill="#ff0000" stroke="#2a3030" stroke-width="0.95"/>
<rect x="244.09" y="668.4" width="9.53" height="9.2" fill="#ff0000" stroke="#2a3030" stroke-width="0.95"/>
<line x1="244.09" y1="669.9" x2="253.62" y2="669.9" stroke="#1c1c1c" stroke-width="0.6"/>
<line x1="267.91" y1="692.8" x2="267.91" y2="720.2" stroke="#3e3e3e" stroke-width="1.15"/>
<rect x="265.53" y="696.6" width="4.77" height="14.6" fill="#6699ff" stroke="#2a3030" stroke-width="0.95"/>
<rect x="263.15" y="699.2" width="9.53" height="5.6" fill="#6699ff" stroke="#2a3030" stroke-width="0.95"/>
<line x1="263.15" y1="701.8" x2="272.68" y2="701.8" stroke="#1c1c1c" stroke-width="0.6"/>
<line x1="286.98" y1="652.2" x2="286.98" y2="689.6" stroke="#3e3e3e" stroke-width="1.15"/>
<rect x="284.59" y="658.2" width="4.77" height="28" fill="#ff0000" stroke="#2a3030" stroke-width="0.95"/>
<rect x="282.21" y="668.6" width="9.53" height="15.6" fill="#ff0000" stroke="#2a3030" stroke-width="0.95"/>
<line x1="282.21" y1="678.6" x2="291.74" y2="678.6" stroke="#1c1c1c" stroke-width="0.6"/>
<line x1="306.04" y1="690.6" x2="306.04" y2="731.8" stroke="#3e3e3e" stroke-width="1.15"/>
<rect x="303.66" y="698.8" width="4.77" height="25.4" fill="#6699ff" stroke="#2a3030" stroke-width="0.95"/>
<rect x="301.27" y="709.6" width="9.53" height="11" fill="#6699ff" stroke="#2a3030" stroke-width="0.95"/>
<line x1="301.27" y1="715.6" x2="310.8" y2="715.6" stroke="#1c1c1c" stroke-width="0.6"/>
<line x1="325.1" y1="651.8" x2="325.1" y2="699.8" stroke="#3e3e3e" stroke-width="1.15"/>
<rect x="322.72" y="675.2" width="4.77" height="20.4" fill="#ff0000" stroke="#2a3030" stroke-width="0.95"/>
<rect x="320.33" y="682.2" width="9.53" height="10.6" fill="#ff0000" stroke="#2a3030" stroke-width="0.95"/>
<line x1="320.33" y1="689.2" x2="329.87" y2="689.2" stroke="#1c1c1c" stroke-width="0.6"/>
<line x1="344.16" y1="702.2" x2="344.16" y2="724.2" stroke="#3e3e3e" stroke-width="1.15"/>
<rect x="341.78" y="706.6" width="4.77" height="11" fill="#6699ff" stroke="#2a3030" stroke-width="0.95"/>
<rect x="339.4" y="710.2" width="9.53" height="5.6" fill="#6699ff" stroke="#2a3030" stroke-width="0.95"/>
<line x1="339.4" y1="712.8" x2="348.93" y2="712.8" stroke="#1c1c1c" stroke-width="0.6"/>
<line x1="363.22" y1="668.6" x2="363.22" y2="698.2" stroke="#3e3e3e" stroke-width="1.15"/>
<rect x="360.84" y="669.6" width="4.77" height="20" fill="#ff0000" stroke="#2a3030" stroke-width="0.95"/>
<rect x="358.46" y="671.8" width="9.53" height="13.8" fill="#ff0000" stroke="#2a3030" stroke-width="0.95"/>
<line x1="358.46" y1="675.8" x2="367.99" y2="675.8" stroke="#1c1c1c" stroke-width="0.6"/>
<line x1="382.29" y1="695.2" x2="382.29" y2="734.2" stroke="#3e3e3e" stroke-width="1.15"/>
<rect x="379.9" y="699.2" width="4.77" height="20.4" fill="#6699ff" stroke="#2a3030" stroke-width="0.95"/>
<rect x="377.52" y="704.8" width="9.53" height="7.8" fill="#6699ff" stroke="#2a3030" stroke-width="0.95"/>
<line x1="377.52" y1="707.2" x2="387.05" y2="707.2" stroke="#1c1c1c" stroke-width="0.6"/>
<line x1="401.35" y1="661.6" x2="401.35" y2="707.8" stroke="#3e3e3e" stroke-width="1.15"/>
<rect x="398.97" y="666.6" width="4.77" height="24.6" fill="#ff0000" stroke="#2a3030" stroke-width="0.95"/>
<rect x="396.58" y="675.6" width="9.53" height="11.6" fill="#ff0000" stroke="#2a3030" stroke-width="0.95"/>
<line x1="396.58" y1="680.2" x2="406.11" y2="680.2" stroke="#1c1c1c" stroke-width="0.6"/>
<line x1="420.41" y1="692.8" x2="420.41" y2="721.8" stroke="#3e3e3e" stroke-width="1.15"/>
<rect x="418.03" y="695.6" width="4.77" height="20.6" fill="#6699ff" stroke="#2a3030" stroke-width="0.95"/>
<rect x="415.64" y="699.6" width="9.53" height="11.6" fill="#6699ff" stroke="#2a3030" stroke-width="0.95"/>
<line x1="415.64" y1="704.2" x2="425.18" y2="704.2" stroke="#1c1c1c" stroke-width="0.6"/>
<line x1="439.47" y1="656.2" x2="439.47" y2="697.6" stroke="#3e3e3e" stroke-width="1.15"/>
<rect x="437.09" y="663.8" width="4.77" height="28.8" fill="#ff0000" stroke="#2a3030" stroke-width="0.95"/>
<rect x="434.71" y="668.2" width="9.53" height="18" fill="#ff0000" stroke="#2a3030" stroke-width="0.95"/>
<line x1="434.71" y1="672.2" x2="444.24" y2="672.2" stroke="#1c1c1c" stroke-width="0.6"/>
<line x1="458.53" y1="679.2" x2="458.53" y2="716.2" stroke="#3e3e3e" stroke-width="1.15"/>
<rect x="456.15" y="688.6" width="4.77" height="21.2" fill="#6699ff" stroke="#2a3030" stroke-width="0.95"/>
<rect x="453.77" y="694.6" width="9.53" height="10.6" fill="#6699ff" stroke="#2a3030" stroke-width="0.95"/>
<line x1="453.77" y1="699.6" x2="463.3" y2="699.6" stroke="#1c1c1c" stroke-width="0.6"/>
<line x1="477.6" y1="649.6" x2="477.6" y2="683.8" stroke="#3e3e3e" stroke-width="1.15"/>
<rect x="475.21" y="656.6" width="4.77" height="24" fill="#ff0000" stroke="#2a3030" stroke-width="0.95"/>
<rect x="472.83" y="661.2" width="9.53" height="11.6" fill="#ff0000" stroke="#2a3030" stroke-width="0.95"/>
<line x1="472.83" y1="666.2" x2="482.36" y2="666.2" stroke="#1c1c1c" stroke-width="0.6"/>
<line x1="496.66" y1="675.6" x2="496.66" y2="710.8" stroke="#3e3e3e" stroke-width="1.15"/>
<rect x="494.28" y="683.6" width="4.77" height="21" fill="#6699ff" stroke="#2a3030" stroke-width="0.95"/>
<rect x="491.89" y="689.2" width="9.53" height="9.6" fill="#6699ff" stroke="#2a3030" stroke-width="0.95"/>
<line x1="491.89" y1="694.2" x2="501.42" y2="694.2" stroke="#1c1c1c" stroke-width="0.6"/>
<line x1="515.72" y1="649.2" x2="515.72" y2="687.8" stroke="#3e3e3e" stroke-width="1.15"/>
<rect x="513.34" y="653.2" width="4.77" height="25.4" fill="#ff0000" stroke="#2a3030" stroke-width="0.95"/>
<rect x="510.96" y="658.2" width="9.53" height="14.6" fill="#ff0000" stroke="#2a3030" stroke-width="0.95"/>
<line x1="510.96" y1="666.2" x2="520.49" y2="666.2" stroke="#1c1c1c" stroke-width="0.6"/>
<line x1="534.78" y1="675.2" x2="534.78" y2="715.8" stroke="#3e3e3e" stroke-width="1.15"/>
<rect x="532.4" y="680.6" width="4.77" height="23" fill="#6699ff" stroke="#2a3030" stroke-width="0.95"/>
<rect x="530.02" y="684.6" width="9.53" height="14" fill="#6699ff" stroke="#2a3030" stroke-width="0.95"/>
<line x1="530.02" y1="689.6" x2="539.55" y2="689.6" stroke="#1c1c1c" stroke-width="0.6"/>
<line x1="553.84" y1="648.2" x2="553.84" y2="693.6" stroke="#3e3e3e" stroke-width="1.15"/>
<rect x="551.46" y="654.2" width="4.77" height="22.4" fill="#ff0000" stroke="#2a3030" stroke-width="0.95"/>
<rect x="549.08" y="657.2" width="9.53" height="12.4" fill="#ff0000" stroke="#2a3030" stroke-width="0.95"/>
<line x1="549.08" y1="661.6" x2="558.61" y2="661.6" stroke="#1c1c1c" stroke-width="0.6"/>
<line x1="572.91" y1="671.2" x2="572.91" y2="720.2" stroke="#3e3e3e" stroke-width="1.15"/>
<rect x="570.52" y="678.6" width="4.77" height="21.2" fill="#6699ff" stroke="#2a3030" stroke-width="0.95"/>
<rect x="568.14" y="684.8" width="9.53" height="10.8" fill="#6699ff" stroke="#2a3030" stroke-width="0.95"/>
<line x1="568.14" y1="688.6" x2="577.67" y2="688.6" stroke="#1c1c1c" stroke-width="0.6"/>
<line x1="591.97" y1="641.6" x2="591.97" y2="695.8" stroke="#3e3e3e" stroke-width="1.15"/>
<rect x="589.59" y="645.6" width="4.77" height="31.2" fill="#ff0000" stroke="#2a3030" stroke-width="0.95"/>
<rect x="587.2" y="650.2" width="9.53" height="21" fill="#ff0000" stroke="#2a3030" stroke-width="0.95"/>
<line x1="587.2" y1="663.2" x2="596.73" y2="663.2" stroke="#1c1c1c" stroke-width="0.6"/>
</g>
<g opacity="0.3">
<g stroke-dasharray="4.3 3.7" stroke-width="1" fill="none">
<line x1="48.7" y1="720.68" x2="601.5" y2="720.68" stroke="#dbdbdb" stroke-width="1"/>
<line x1="48.7" y1="703.76" x2="601.5" y2="703.76" stroke="#dbdbdb" stroke-width="1"/>
<line x1="48.7" y1="686.84" x2="601.5" y2="686.84" stroke="#dbdbdb" stroke-width="1"/>
<line x1="48.7" y1="669.92" x2="601.5" y2="669.92" stroke="#dbdbdb" stroke-width="1"/>
<line x1="48.7" y1="653" x2="601.5" y2="653" stroke="#dbdbdb" stroke-width="1"/>
<line x1="67.76" y1="750.8" x2="67.76" y2="641.4" stroke="#bababa" stroke-width="1"/>
<line x1="105.89" y1="750.8" x2="105.89" y2="641.4" stroke="#bababa" stroke-width="1"/>
<line x1="144.01" y1="750.8" x2="144.01" y2="641.4" stroke="#bababa" stroke-width="1"/>
<line x1="182.13" y1="750.8" x2="182.13" y2="641.4" stroke="#bababa" stroke-width="1"/>
<line x1="220.26" y1="750.8" x2="220.26" y2="641.4" stroke="#bababa" stroke-width="1"/>
<line x1="258.38" y1="750.8" x2="258.38" y2="641.4" stroke="#bababa" stroke-width="1"/>
<line x1="296.51" y1="750.8" x2="296.51" y2="641.4" stroke="#bababa" stroke-width="1"/>
<line x1="334.63" y1="750.8" x2="334.63" y2="641.4" stroke="#bababa" stroke-width="1"/>
<line x1="372.76" y1="750.8" x2="372.76" y2="641.4" stroke="#bababa" stroke-width="1"/>
<line x1="410.88" y1="750.8" x2="410.88" y2="641.4" stroke="#bababa" stroke-width="1"/>
<line x1="449" y1="750.8" x2="449" y2="641.4" stroke="#bababa" stroke-width="1"/>
<line x1="487.13" y1="750.8" x2="487.13" y2="641.4" stroke="#bababa" stroke-width="1"/>
<line x1="525.25" y1="750.8" x2="525.25" y2="641.4" stroke="#bababa" stroke-width="1"/>
<line x1="563.38" y1="750.8" x2="563.38" y2="641.4" stroke="#bababa" stroke-width="1"/>
</g>
<line x1="48.7" y1="737.6" x2="601.5" y2="737.6" stroke="#c4c4c4" stroke-width="1"/>
</g>
<polyline points="48.7,641.4 601.5,641.4 601.5,750.8" fill="none" stroke="#a59d8a" stroke-width="1.15" stroke-linejoin="round"/>
<line x1="48.7" y1="750.8" x2="48.7" y2="754.7" stroke="#707070" stroke-width="1"/>
<line x1="58.23" y1="750.8" x2="58.23" y2="754.7" stroke="#707070" stroke-width="1"/>
<line x1="67.76" y1="750.8" x2="67.76" y2="756.7" stroke="#585858" stroke-width="1.5"/>
<line x1="77.29" y1="750.8" x2="77.29" y2="754.7" stroke="#707070" stroke-width="1"/>
<line x1="86.82" y1="750.8" x2="86.82" y2="754.7" stroke="#707070" stroke-width="1"/>
<line x1="96.36" y1="750.8" x2="96.36" y2="754.7" stroke="#707070" stroke-width="1"/>
<line x1="105.89" y1="750.8" x2="105.89" y2="756.7" stroke="#585858" stroke-width="1.5"/>
<line x1="115.42" y1="750.8" x2="115.42" y2="754.7" stroke="#707070" stroke-width="1"/>
<line x1="124.95" y1="750.8" x2="124.95" y2="754.7" stroke="#707070" stroke-width="1"/>
<line x1="134.48" y1="750.8" x2="134.48" y2="754.7" stroke="#707070" stroke-width="1"/>
<line x1="144.01" y1="750.8" x2="144.01" y2="756.7" stroke="#585858" stroke-width="1.5"/>
<line x1="153.54" y1="750.8" x2="153.54" y2="754.7" stroke="#707070" stroke-width="1"/>
<line x1="163.07" y1="750.8" x2="163.07" y2="754.7" stroke="#707070" stroke-width="1"/>
<line x1="172.6" y1="750.8" x2="172.6" y2="754.7" stroke="#707070" stroke-width="1"/>
<line x1="182.13" y1="750.8" x2="182.13" y2="756.7" stroke="#585858" stroke-width="1.5"/>
<line x1="191.67" y1="750.8" x2="191.67" y2="754.7" stroke="#707070" stroke-width="1"/>
<line x1="201.2" y1="750.8" x2="201.2" y2="754.7" stroke="#707070" stroke-width="1"/>
<line x1="210.73" y1="750.8" x2="210.73" y2="754.7" stroke="#707070" stroke-width="1"/>
<line x1="220.26" y1="750.8" x2="220.26" y2="756.7" stroke="#585858" stroke-width="1.5"/>
<line x1="229.79" y1="750.8" x2="229.79" y2="754.7" stroke="#707070" stroke-width="1"/>
<line x1="239.32" y1="750.8" x2="239.32" y2="754.7" stroke="#707070" stroke-width="1"/>
<line x1="248.85" y1="750.8" x2="248.85" y2="754.7" stroke="#707070" stroke-width="1"/>
<line x1="258.38" y1="750.8" x2="258.38" y2="756.7" stroke="#585858" stroke-width="1.5"/>
<line x1="267.91" y1="750.8" x2="267.91" y2="754.7" stroke="#707070" stroke-width="1"/>
<line x1="277.44" y1="750.8" x2="277.44" y2="754.7" stroke="#707070" stroke-width="1"/>
<line x1="286.98" y1="750.8" x2="286.98" y2="754.7" stroke="#707070" stroke-width="1"/>
<line x1="296.51" y1="750.8" x2="296.51" y2="756.7" stroke="#585858" stroke-width="1.5"/>
<line x1="306.04" y1="750.8" x2="306.04" y2="754.7" stroke="#707070" stroke-width="1"/>
<line x1="315.57" y1="750.8" x2="315.57" y2="754.7" stroke="#707070" stroke-width="1"/>
<line x1="325.1" y1="750.8" x2="325.1" y2="754.7" stroke="#707070" stroke-width="1"/>
<line x1="334.63" y1="750.8" x2="334.63" y2="756.7" stroke="#585858" stroke-width="1.5"/>
<line x1="344.16" y1="750.8" x2="344.16" y2="754.7" stroke="#707070" stroke-width="1"/>
<line x1="353.69" y1="750.8" x2="353.69" y2="754.7" stroke="#707070" stroke-width="1"/>
<line x1="363.22" y1="750.8" x2="363.22" y2="754.7" stroke="#707070" stroke-width="1"/>
<line x1="372.76" y1="750.8" x2="372.76" y2="756.7" stroke="#585858" stroke-width="1.5"/>
<line x1="382.29" y1="750.8" x2="382.29" y2="754.7" stroke="#707070" stroke-width="1"/>
<line x1="391.82" y1="750.8" x2="391.82" y2="754.7" stroke="#707070" stroke-width="1"/>
<line x1="401.35" y1="750.8" x2="401.35" y2="754.7" stroke="#707070" stroke-width="1"/>
<line x1="410.88" y1="750.8" x2="410.88" y2="756.7" stroke="#585858" stroke-width="1.5"/>
<line x1="420.41" y1="750.8" x2="420.41" y2="754.7" stroke="#707070" stroke-width="1"/>
<line x1="429.94" y1="750.8" x2="429.94" y2="754.7" stroke="#707070" stroke-width="1"/>
<line x1="439.47" y1="750.8" x2="439.47" y2="754.7" stroke="#707070" stroke-width="1"/>
<line x1="449" y1="750.8" x2="449" y2="756.7" stroke="#585858" stroke-width="1.5"/>
<line x1="458.53" y1="750.8" x2="458.53" y2="754.7" stroke="#707070" stroke-width="1"/>
<line x1="468.07" y1="750.8" x2="468.07" y2="754.7" stroke="#707070" stroke-width="1"/>
<line x1="477.6" y1="750.8" x2="477.6" y2="754.7" stroke="#707070" stroke-width="1"/>
<line x1="487.13" y1="750.8" x2="487.13" y2="756.7" stroke="#585858" stroke-width="1.5"/>
<line x1="496.66" y1="750.8" x2="496.66" y2="754.7" stroke="#707070" stroke-width="1"/>
<line x1="506.19" y1="750.8" x2="506.19" y2="754.7" stroke="#707070" stroke-width="1"/>
<line x1="515.72" y1="750.8" x2="515.72" y2="754.7" stroke="#707070" stroke-width="1"/>
<line x1="525.25" y1="750.8" x2="525.25" y2="756.7" stroke="#585858" stroke-width="1.5"/>
<line x1="534.78" y1="750.8" x2="534.78" y2="754.7" stroke="#707070" stroke-width="1"/>
<line x1="544.31" y1="750.8" x2="544.31" y2="754.7" stroke="#707070" stroke-width="1"/>
<line x1="553.84" y1="750.8" x2="553.84" y2="754.7" stroke="#707070" stroke-width="1"/>
<line x1="563.38" y1="750.8" x2="563.38" y2="756.7" stroke="#585858" stroke-width="1.5"/>
<line x1="572.91" y1="750.8" x2="572.91" y2="754.7" stroke="#707070" stroke-width="1"/>
<line x1="582.44" y1="750.8" x2="582.44" y2="754.7" stroke="#707070" stroke-width="1"/>
<line x1="591.97" y1="750.8" x2="591.97" y2="754.7" stroke="#707070" stroke-width="1"/>
<line x1="601.5" y1="750.8" x2="601.5" y2="756.7" stroke="#585858" stroke-width="1.5"/>
<line x1="40.8" y1="737.6" x2="48.7" y2="737.6" stroke="#3c3c3c" stroke-width="1.2"/>
<text x="36.3" y="739.55" font-size="9.7" text-anchor="end" fill="#333333" textLength="5.3" lengthAdjust="spacingAndGlyphs" class="gp">0</text>
<line x1="40.8" y1="720.68" x2="48.7" y2="720.68" stroke="#3c3c3c" stroke-width="1.2"/>
<text x="36.3" y="722.63" font-size="9.7" text-anchor="end" fill="#333333" textLength="5.3" lengthAdjust="spacingAndGlyphs" class="gp">5</text>
<line x1="40.8" y1="703.76" x2="48.7" y2="703.76" stroke="#3c3c3c" stroke-width="1.2"/>
<text x="36.3" y="705.71" font-size="9.7" text-anchor="end" fill="#333333" textLength="10.6" lengthAdjust="spacingAndGlyphs" class="gp">10</text>
<line x1="40.8" y1="686.84" x2="48.7" y2="686.84" stroke="#3c3c3c" stroke-width="1.2"/>
<text x="36.3" y="688.79" font-size="9.7" text-anchor="end" fill="#333333" textLength="10.6" lengthAdjust="spacingAndGlyphs" class="gp">15</text>
<line x1="40.8" y1="669.92" x2="48.7" y2="669.92" stroke="#3c3c3c" stroke-width="1.2"/>
<text x="36.3" y="671.87" font-size="9.7" text-anchor="end" fill="#333333" textLength="10.6" lengthAdjust="spacingAndGlyphs" class="gp">20</text>
<line x1="40.8" y1="653" x2="48.7" y2="653" stroke="#3c3c3c" stroke-width="1.2"/>
<text x="36.3" y="654.95" font-size="9.7" text-anchor="end" fill="#333333" textLength="10.6" lengthAdjust="spacingAndGlyphs" class="gp">25</text>
<polyline points="48.7,641.4 48.7,750.8 602,750.8" fill="none" stroke="#5f5443" stroke-width="1.25" stroke-linejoin="round"/>
<text x="49.3" y="770" font-size="9.5" text-anchor="middle" fill="#333333" textLength="19.4" lengthAdjust="spacingAndGlyphs" class="gp" xml:space="preserve">Fri30</text>
<text x="86.82" y="770" font-size="9.5" text-anchor="middle" fill="#333333" textLength="22.4" lengthAdjust="spacingAndGlyphs" class="gp" xml:space="preserve">Sat31</text>
<text x="124.95" y="770" font-size="9.5" text-anchor="middle" fill="#ff2020" textLength="23" lengthAdjust="spacingAndGlyphs" class="gp" xml:space="preserve">Sun 1</text>
<text x="163.07" y="770" font-size="9.5" text-anchor="middle" fill="#333333" textLength="25.8" lengthAdjust="spacingAndGlyphs" class="gp" xml:space="preserve">Mon 2</text>
<text x="201.2" y="770" font-size="9.5" text-anchor="middle" fill="#333333" textLength="22.5" lengthAdjust="spacingAndGlyphs" class="gp" xml:space="preserve">Tue 3</text>
<text x="239.32" y="770" font-size="9.5" text-anchor="middle" fill="#333333" textLength="26.6" lengthAdjust="spacingAndGlyphs" class="gp" xml:space="preserve">Wed 4</text>
<text x="277.44" y="770" font-size="9.5" text-anchor="middle" fill="#333333" textLength="23.3" lengthAdjust="spacingAndGlyphs" class="gp" xml:space="preserve">Thu 5</text>
<text x="315.57" y="770" font-size="9.5" text-anchor="middle" fill="#333333" textLength="17" lengthAdjust="spacingAndGlyphs" class="gp" xml:space="preserve">Fri 6</text>
<text x="353.69" y="770" font-size="9.5" text-anchor="middle" fill="#333333" textLength="21.4" lengthAdjust="spacingAndGlyphs" class="gp" xml:space="preserve">Sat 7</text>
<text x="391.82" y="770" font-size="9.5" text-anchor="middle" fill="#ff2020" textLength="24" lengthAdjust="spacingAndGlyphs" class="gp" xml:space="preserve">Sun 8</text>
<text x="429.94" y="770" font-size="9.5" text-anchor="middle" fill="#333333" textLength="26.2" lengthAdjust="spacingAndGlyphs" class="gp" xml:space="preserve">Mon 9</text>
<text x="468.07" y="770" font-size="9.5" text-anchor="middle" fill="#333333" textLength="24.3" lengthAdjust="spacingAndGlyphs" class="gp" xml:space="preserve">Tue10</text>
<text x="506.19" y="770" font-size="9.5" text-anchor="middle" fill="#333333" textLength="28.5" lengthAdjust="spacingAndGlyphs" class="gp" xml:space="preserve">Wed11</text>
<text x="544.31" y="770" font-size="9.5" text-anchor="middle" fill="#333333" textLength="25.8" lengthAdjust="spacingAndGlyphs" class="gp" xml:space="preserve">Thu12</text>
<text x="582.44" y="770" font-size="9.5" text-anchor="middle" fill="#333333" textLength="19.5" lengthAdjust="spacingAndGlyphs" class="gp" xml:space="preserve">Fri13</text>
<text x="48.6" y="785.7" font-size="9.5" text-anchor="middle" fill="#333333" textLength="15" lengthAdjust="spacingAndGlyphs" class="gp">Jan</text>
<text x="124.65" y="785.7" font-size="9.5" text-anchor="middle" fill="#333333" textLength="15.4" lengthAdjust="spacingAndGlyphs" class="gp">Feb</text>
<text x="48.8" y="801.7" font-size="9.5" text-anchor="middle" fill="#333333" textLength="19.6" lengthAdjust="spacingAndGlyphs" class="gp">2026</text>
<line x1="178.4" y1="808.9" x2="178.4" y2="858.3" stroke="#6e6e6e" stroke-width="0.95"/>
<rect x="172.4" y="817.3" width="13.2" height="32.6" fill="#b2b2b2" stroke="#626262" stroke-width="0.8"/>
<rect x="165.6" y="825.3" width="26" height="16.6" fill="#b2b2b2" stroke="#626262" stroke-width="0.8"/>
<line x1="165.6" y1="833.5" x2="191.6" y2="833.5" stroke="#626262" stroke-width="0.8"/>
<text x="211" y="807.7" font-size="7" text-anchor="start" fill="#5a5a5a" textLength="13.1" lengthAdjust="spacingAndGlyphs">max</text>
<text x="211" y="815.8" font-size="7" text-anchor="start" fill="#5a5a5a" textLength="13.8" lengthAdjust="spacingAndGlyphs">90%</text>
<text x="228.2" y="824.7" font-size="7" text-anchor="start" fill="#5a5a5a" textLength="13.8" lengthAdjust="spacingAndGlyphs">75%</text>
<text x="228.2" y="832.6" font-size="7" text-anchor="start" fill="#5a5a5a" textLength="23.5" lengthAdjust="spacingAndGlyphs">median</text>
<text x="228.2" y="840.7" font-size="7" text-anchor="start" fill="#5a5a5a" textLength="13.8" lengthAdjust="spacingAndGlyphs">25%</text>
<text x="211" y="848.7" font-size="7" text-anchor="start" fill="#5a5a5a" textLength="13.8" lengthAdjust="spacingAndGlyphs">10%</text>
<text x="211" y="856.7" font-size="7" text-anchor="start" fill="#5a5a5a" textLength="11.6" lengthAdjust="spacingAndGlyphs">min</text>
</svg></body></html>
